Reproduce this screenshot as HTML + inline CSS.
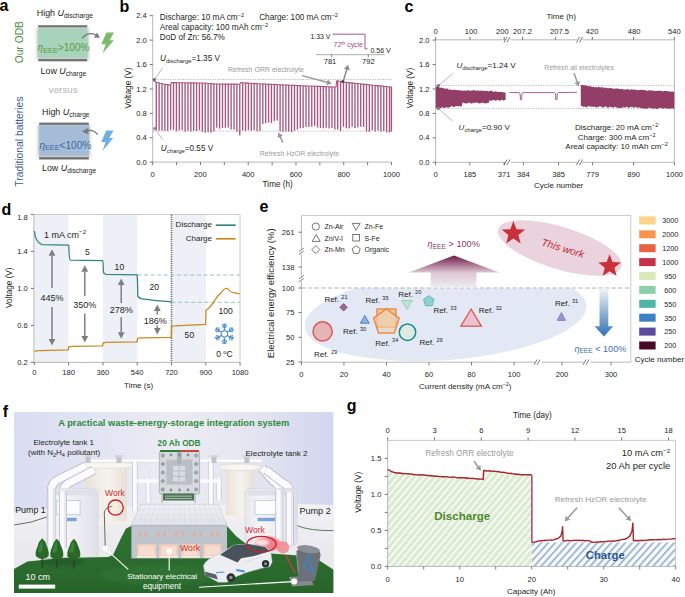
<!DOCTYPE html>
<html><head><meta charset="utf-8"><style>
html,body{margin:0;padding:0;background:#fff;}
body{width:685px;height:597px;overflow:hidden;}
svg{display:block;font-family:"Liberation Sans", sans-serif;}
</style></head><body>
<svg width="685" height="597" viewBox="0 0 685 597">
<defs>
<filter id="sh" x="-20%" y="-20%" width="140%" height="140%"><feGaussianBlur stdDeviation="1.6"/></filter>
<filter id="bl1" x="-20%" y="-20%" width="140%" height="140%"><feGaussianBlur stdDeviation="0.8"/></filter>
<filter id="bl2" x="-20%" y="-20%" width="140%" height="140%"><feGaussianBlur stdDeviation="2"/></filter>
<linearGradient id="gUp" x1="0" y1="0" x2="0" y2="1"><stop offset="0" stop-color="#7d2455"/><stop offset="1" stop-color="#ffffff"/></linearGradient>
<linearGradient id="gDn" x1="0" y1="0" x2="0" y2="1"><stop offset="0" stop-color="#f4f4f6"/><stop offset="1" stop-color="#3a78b8"/></linearGradient>
<pattern id="hG" patternUnits="userSpaceOnUse" width="5.1" height="5.1" patternTransform="rotate(40)"><rect width="5.1" height="5.1" fill="#ffffff"/><rect width="3.7" height="5.1" fill="#dcecd2"/></pattern>
<pattern id="hB" patternUnits="userSpaceOnUse" width="5.2" height="5.2" patternTransform="rotate(42)"><rect width="5.2" height="5.2" fill="#ffffff"/><rect width="2.1" height="5.2" fill="#9fbbd8"/></pattern>
<linearGradient id="bgF" x1="0" y1="0" x2="0" y2="1"><stop offset="0" stop-color="#e9e9f1"/><stop offset="0.5" stop-color="#ececf2"/><stop offset="1" stop-color="#dcdde6"/></linearGradient>
</defs>
<text x="-0.4" y="11.3" font-size="16" text-anchor="start" fill="#000" font-weight="bold" font-style="normal" >a</text><text x="119.6" y="12.3" font-size="16" text-anchor="start" fill="#000" font-weight="bold" font-style="normal" >b</text><text x="404.4" y="12.4" font-size="16" text-anchor="start" fill="#000" font-weight="bold" font-style="normal" >c</text><text x="1.4" y="214.6" font-size="16" text-anchor="start" fill="#000" font-weight="bold" font-style="normal" >d</text><text x="259.4" y="211.6" font-size="16" text-anchor="start" fill="#000" font-weight="bold" font-style="normal" >e</text><text x="2.8" y="416.6" font-size="16" text-anchor="start" fill="#000" font-weight="bold" font-style="normal" >f</text><text x="346.8" y="411.4" font-size="16" text-anchor="start" fill="#000" font-weight="bold" font-style="normal" >g</text><text x="36.8" y="16.0" font-size="8.9" fill="#231f20">High <tspan font-style="italic">U</tspan><tspan font-size="6.7" dy="2.0">discharge</tspan></text><rect x="37" y="27.5" width="51.5" height="32" fill="#8a8a8a" opacity="0.55" filter="url(#sh)"/><rect x="38.2" y="28.4" width="49" height="29.2" fill="#a8d4bb"/><rect x="38.2" y="25.2" width="49" height="2.2" fill="#747474"/><rect x="38.2" y="59" width="49" height="2.3" fill="#747474"/><text x="37.6" y="51" font-size="10.1" fill="#5a9a44"><tspan font-style="italic">η</tspan><tspan font-size="7.3" dy="1.6">EEE</tspan><tspan dy="-1.6">&gt;100%</tspan></text><text x="40.6" y="73.8" font-size="8.9" fill="#231f20">Low <tspan font-style="italic">U</tspan><tspan font-size="6.7" dy="2.0">charge</tspan></text><path d="M82.2,38.4 Q87.5,31.2 95.8,34.8" fill="none" stroke="#7a7a7a" stroke-width="1.4"/><polygon points="99.9,37.7 93.9,37.5 97.1,32.4" fill="#7a7a7a"/><polygon points="106.46,32.60 114.00,32.60 109.58,40.16 113.74,40.16 102.56,53.60 105.68,44.15 101.26,44.15" fill="#7dba6a"/><text x="63.2" y="93.4" font-size="9.8" text-anchor="middle" fill="#b4b4b4" font-weight="normal" font-style="normal" >versus</text><text transform="translate(23.3,42.2) rotate(-90)" font-size="10.3" text-anchor="middle" fill="#4e8a3c">Our ODB</text><text transform="translate(23.3,141.6) rotate(-90)" font-size="10.3" text-anchor="middle" fill="#3c5c9c">Traditional batteries</text><text x="42" y="114.8" font-size="8.9" fill="#231f20">High <tspan font-style="italic">U</tspan><tspan font-size="6.7" dy="2.0">charge</tspan></text><rect x="38" y="124.5" width="52" height="33" fill="#8a8a8a" opacity="0.55" filter="url(#sh)"/><rect x="39.2" y="125.4" width="49.6" height="30" fill="#a4bcd8"/><rect x="39.2" y="122.6" width="49.6" height="2.3" fill="#747474"/><rect x="39.2" y="157.1" width="49.6" height="2.4" fill="#747474"/><text x="39.4" y="148.8" font-size="10.1" fill="#3d69a0"><tspan font-style="italic">η</tspan><tspan font-size="7.3" dy="1.6">EEE</tspan><tspan dy="-1.6">&lt;100%</tspan></text><text x="42" y="171.4" font-size="8.9" fill="#231f20">Low <tspan font-style="italic">U</tspan><tspan font-size="6.7" dy="2.0">discharge</tspan></text><path d="M97.6,134.6 Q93,128.5 86,131.2" fill="none" stroke="#7a7a7a" stroke-width="1.3"/><polygon points="81.8,131.6 88.4,127.8 88.4,134.6" fill="#7a7a7a"/><polygon points="106.25,130.60 113.50,130.60 109.25,137.98 113.25,137.98 102.50,151.10 105.50,141.88 101.25,141.88" fill="#6eb0e4"/><line x1="152.7" y1="15.199999999999989" x2="152.7" y2="162.1" stroke="#b0b0b0" stroke-width="0.9" /><line x1="152.7" y1="162.1" x2="391.5" y2="162.1" stroke="#b0b0b0" stroke-width="0.9" /><line x1="149.7" y1="162.1" x2="152.7" y2="162.1" stroke="#555" stroke-width="0.8" /><text x="146.8" y="164.7" font-size="7.6" text-anchor="end" fill="#231f20" font-weight="normal" font-style="normal" >0.0</text><line x1="149.7" y1="137.7" x2="152.7" y2="137.7" stroke="#555" stroke-width="0.8" /><text x="146.8" y="140.29999999999998" font-size="7.6" text-anchor="end" fill="#231f20" font-weight="normal" font-style="normal" >0.4</text><line x1="149.7" y1="113.29999999999998" x2="152.7" y2="113.29999999999998" stroke="#555" stroke-width="0.8" /><text x="146.8" y="115.89999999999998" font-size="7.6" text-anchor="end" fill="#231f20" font-weight="normal" font-style="normal" >0.8</text><line x1="149.7" y1="88.89999999999999" x2="152.7" y2="88.89999999999999" stroke="#555" stroke-width="0.8" /><text x="146.8" y="91.49999999999999" font-size="7.6" text-anchor="end" fill="#231f20" font-weight="normal" font-style="normal" >1.2</text><line x1="149.7" y1="64.49999999999999" x2="152.7" y2="64.49999999999999" stroke="#555" stroke-width="0.8" /><text x="146.8" y="67.09999999999998" font-size="7.6" text-anchor="end" fill="#231f20" font-weight="normal" font-style="normal" >1.6</text><line x1="149.7" y1="40.099999999999994" x2="152.7" y2="40.099999999999994" stroke="#555" stroke-width="0.8" /><text x="146.8" y="42.699999999999996" font-size="7.6" text-anchor="end" fill="#231f20" font-weight="normal" font-style="normal" >2.0</text><line x1="149.7" y1="15.699999999999989" x2="152.7" y2="15.699999999999989" stroke="#555" stroke-width="0.8" /><text x="146.8" y="18.29999999999999" font-size="7.6" text-anchor="end" fill="#231f20" font-weight="normal" font-style="normal" >2.4</text><line x1="152.7" y1="162.1" x2="152.7" y2="165.1" stroke="#555" stroke-width="0.8" /><line x1="176.57999999999998" y1="162.1" x2="176.57999999999998" y2="165.1" stroke="#555" stroke-width="0.8" /><line x1="200.45999999999998" y1="162.1" x2="200.45999999999998" y2="165.1" stroke="#555" stroke-width="0.8" /><line x1="224.33999999999997" y1="162.1" x2="224.33999999999997" y2="165.1" stroke="#555" stroke-width="0.8" /><line x1="248.22" y1="162.1" x2="248.22" y2="165.1" stroke="#555" stroke-width="0.8" /><line x1="272.1" y1="162.1" x2="272.1" y2="165.1" stroke="#555" stroke-width="0.8" /><line x1="295.98" y1="162.1" x2="295.98" y2="165.1" stroke="#555" stroke-width="0.8" /><line x1="319.86" y1="162.1" x2="319.86" y2="165.1" stroke="#555" stroke-width="0.8" /><line x1="343.74" y1="162.1" x2="343.74" y2="165.1" stroke="#555" stroke-width="0.8" /><line x1="367.62" y1="162.1" x2="367.62" y2="165.1" stroke="#555" stroke-width="0.8" /><line x1="391.5" y1="162.1" x2="391.5" y2="165.1" stroke="#555" stroke-width="0.8" /><text x="152.7" y="177.2" font-size="7.6" text-anchor="middle" fill="#231f20" font-weight="normal" font-style="normal" >0</text><text x="200.45999999999998" y="177.2" font-size="7.6" text-anchor="middle" fill="#231f20" font-weight="normal" font-style="normal" >200</text><text x="248.22" y="177.2" font-size="7.6" text-anchor="middle" fill="#231f20" font-weight="normal" font-style="normal" >400</text><text x="295.98" y="177.2" font-size="7.6" text-anchor="middle" fill="#231f20" font-weight="normal" font-style="normal" >600</text><text x="343.74" y="177.2" font-size="7.6" text-anchor="middle" fill="#231f20" font-weight="normal" font-style="normal" >800</text><text x="391.5" y="177.2" font-size="7.6" text-anchor="middle" fill="#231f20" font-weight="normal" font-style="normal" >1000</text><text x="277.7" y="186.6" font-size="8.2" text-anchor="middle" fill="#231f20" font-weight="normal" font-style="normal" >Time (h)</text><text transform="translate(130.8,87.9) rotate(-90)" font-size="8.3" text-anchor="middle" fill="#231f20">Voltage (V)</text><line x1="152.7" y1="79.5" x2="391.5" y2="79.5" stroke="#9a9a9a" stroke-width="0.7" stroke-dasharray="1.2,1.3"/><line x1="152.7" y1="131.1" x2="391.5" y2="131.1" stroke="#9a9a9a" stroke-width="0.7" stroke-dasharray="1.2,1.3"/><path d="M153.50,80.57 L156.00,82.20 L156.13,82.23 L156.13,129.57 L156.38,129.57 L156.38,82.29 L159.01,82.94 L159.01,130.16 L159.26,130.16 L159.26,83.00 L161.89,83.64 L161.89,129.84 L162.14,129.84 L162.14,83.70 L164.77,84.34 L164.77,130.30 L165.02,130.30 L165.02,84.40 L167.65,84.69 L167.65,130.35 L167.90,130.35 L167.90,84.72 L170.50,85.00 L170.53,84.93 L170.53,129.30 L170.78,129.30 L170.78,84.33 L171.50,82.60 L173.41,82.62 L173.41,129.21 L173.66,129.21 L173.66,82.63 L176.29,82.66 L176.29,130.79 L176.54,130.79 L176.54,82.66 L179.17,82.69 L179.17,129.70 L179.42,129.70 L179.42,82.69 L182.05,82.73 L182.05,129.67 L182.30,129.67 L182.30,82.73 L184.93,82.76 L184.93,131.13 L185.18,131.13 L185.18,82.76 L187.81,82.79 L187.81,130.14 L188.06,130.14 L188.06,82.80 L190.69,82.83 L190.69,130.85 L190.94,130.85 L190.94,82.83 L193.57,82.86 L193.57,130.18 L193.82,130.18 L193.82,82.87 L196.45,82.90 L196.45,130.50 L196.70,130.50 L196.70,82.90 L199.33,82.93 L199.33,129.58 L199.58,129.58 L199.58,82.94 L202.21,82.97 L202.21,131.08 L202.46,131.08 L202.46,82.97 L205.00,83.00 L205.09,83.01 L205.09,132.25 L205.34,132.25 L205.34,83.03 L207.97,83.30 L207.97,131.71 L208.22,131.71 L208.22,83.32 L210.85,83.58 L210.85,132.23 L211.10,132.23 L211.10,83.61 L213.73,83.87 L213.73,130.86 L213.98,130.86 L213.98,83.90 L215.00,84.00 L216.61,84.01 L216.61,127.19 L216.86,127.19 L216.86,84.01 L219.49,84.04 L219.49,128.10 L219.74,128.10 L219.74,84.04 L222.37,84.06 L222.37,127.46 L222.62,127.46 L222.62,84.06 L225.25,84.08 L225.25,127.20 L225.50,127.20 L225.50,84.08 L228.13,84.11 L228.13,126.97 L228.38,126.97 L228.38,84.11 L231.01,84.13 L231.01,128.98 L231.26,128.98 L231.26,84.13 L233.89,84.15 L233.89,128.90 L234.14,128.90 L234.14,84.15 L236.77,84.17 L236.77,131.12 L237.02,131.12 L237.02,84.18 L239.65,84.20 L239.65,134.85 L239.90,134.85 L239.90,84.20 L240.00,84.20 L240.60,82.60 L242.53,82.72 L242.53,129.97 L242.78,129.97 L242.78,82.73 L245.41,82.90 L245.41,130.41 L245.66,130.41 L245.66,82.91 L248.29,83.08 L248.29,129.46 L248.54,129.46 L248.54,83.09 L251.17,83.25 L251.17,130.28 L251.42,130.28 L251.42,83.27 L254.05,83.43 L254.05,129.65 L254.30,129.65 L254.30,83.45 L256.93,83.61 L256.93,130.63 L257.18,130.63 L257.18,83.63 L259.81,83.79 L259.81,130.57 L260.06,130.57 L260.06,83.80 L262.69,83.92 L262.69,123.40 L262.94,123.40 L262.94,83.93 L265.57,84.05 L265.57,122.64 L265.82,122.64 L265.82,84.06 L268.45,84.18 L268.45,121.96 L268.70,121.96 L268.70,84.19 L271.33,84.31 L271.33,122.48 L271.58,122.48 L271.58,84.32 L274.21,84.44 L274.21,120.49 L274.46,120.49 L274.46,84.45 L277.09,84.57 L277.09,119.87 L277.34,119.87 L277.34,84.58 L279.97,84.70 L279.97,130.69 L280.22,130.69 L280.22,84.71 L282.85,84.83 L282.85,131.12 L283.10,131.12 L283.10,84.84 L285.73,84.96 L285.73,130.93 L285.98,130.93 L285.98,84.97 L288.61,85.09 L288.61,130.91 L288.86,130.91 L288.86,85.10 L291.49,85.22 L291.49,131.39 L291.74,131.39 L291.74,85.23 L294.37,85.35 L294.37,130.22 L294.62,130.22 L294.62,85.36 L297.25,85.48 L297.25,129.05 L297.50,129.05 L297.50,85.49 L300.00,85.60 L300.13,85.61 L300.13,127.79 L300.38,127.79 L300.38,85.61 L303.01,85.72 L303.01,127.43 L303.26,127.43 L303.26,85.73 L305.89,85.83 L305.89,126.45 L306.14,126.45 L306.14,85.84 L308.77,85.94 L308.77,126.54 L309.02,126.54 L309.02,85.95 L311.65,86.05 L311.65,126.19 L311.90,126.19 L311.90,86.06 L314.53,86.17 L314.53,125.48 L314.78,125.48 L314.78,86.17 L317.41,86.28 L317.41,127.06 L317.66,127.06 L317.66,86.29 L320.29,86.39 L320.29,127.51 L320.54,127.51 L320.54,86.40 L323.17,86.50 L323.17,127.66 L323.42,127.66 L323.42,86.51 L326.05,86.61 L326.05,127.32 L326.30,127.32 L326.30,86.62 L328.93,86.73 L328.93,127.98 L329.18,127.98 L329.18,86.73 L331.81,86.84 L331.81,127.41 L332.06,127.41 L332.06,86.85 L334.69,86.95 L334.69,128.97 L334.94,128.97 L334.94,86.96 L336.00,87.00 L336.70,80.80 L337.57,80.95 L337.57,128.87 L337.82,128.87 L337.82,80.99 L340.45,81.43 L340.45,130.34 L340.70,130.34 L340.70,81.47 L343.33,81.92 L343.33,126.22 L343.58,126.22 L343.58,81.96 L345.00,82.20 L346.21,82.33 L346.21,127.69 L346.46,127.69 L346.46,82.35 L349.09,82.62 L349.09,127.92 L349.34,127.92 L349.34,82.65 L351.97,82.92 L351.97,126.18 L352.22,126.18 L352.22,82.95 L354.85,83.22 L354.85,127.51 L355.10,127.51 L355.10,83.25 L357.73,83.52 L357.73,126.74 L357.98,126.74 L357.98,83.55 L360.61,83.82 L360.61,126.22 L360.86,126.22 L360.86,83.85 L363.49,84.12 L363.49,126.46 L363.74,126.46 L363.74,84.15 L366.37,84.42 L366.37,130.97 L366.62,130.97 L366.62,84.45 L369.25,84.72 L369.25,131.24 L369.50,131.24 L369.50,84.75 L372.13,85.02 L372.13,129.73 L372.38,129.73 L372.38,85.04 L375.01,85.32 L375.01,130.88 L375.26,130.88 L375.26,85.34 L377.89,85.62 L377.89,129.87 L378.14,129.87 L378.14,85.64 L380.77,85.92 L380.77,131.22 L381.02,131.22 L381.02,85.94 L383.65,86.22 L383.65,130.55 L383.90,130.55 L383.90,86.24 L386.53,86.51 L386.53,131.67 L386.78,131.67 L386.78,86.54 L389.41,86.81 L389.41,131.93 L389.66,131.93 L389.66,86.84 L391.20,87.00 L391.30,87.00 L391.30,131.06 L391.55,131.06 L391.55,87.00" fill="none" stroke="#a8567f" stroke-width="1.1"/><line x1="154.4" y1="79.6" x2="162.8" y2="67.8" stroke="#888" stroke-width="0.6" /><line x1="154.9" y1="128.6" x2="162.6" y2="139.6" stroke="#888" stroke-width="0.6" /><circle cx="154.3" cy="79.6" r="1.6" fill="#6a6a6a"/><circle cx="154.8" cy="128.6" r="1.6" fill="#8a8a8a"/><text x="159.8" y="19.9" font-size="8.2" text-anchor="start" fill="#231f20" font-weight="normal" font-style="normal" >Discharge: 10 mA cm<tspan font-size="5.6" dy="-3">−2</tspan></text><text x="259.2" y="19.9" font-size="8.2" text-anchor="start" fill="#231f20" font-weight="normal" font-style="normal" >Charge: 100 mA cm<tspan font-size="5.6" dy="-3">−2</tspan></text><text x="159.8" y="29.8" font-size="8.2" text-anchor="start" fill="#231f20" font-weight="normal" font-style="normal" >Areal capacity: 100 mAh cm<tspan font-size="5.6" dy="-3">−2</tspan></text><text x="159.8" y="39.6" font-size="8.2" text-anchor="start" fill="#231f20" font-weight="normal" font-style="normal" >DoD of Zn: 56.7%</text><text x="160" y="61.4" font-size="8.2" fill="#231f20"><tspan font-style="italic">U</tspan><tspan font-size="5.90" dy="1.80">discharge</tspan><tspan dy="-1.80">=1.35 V</tspan></text><text x="160.8" y="151" font-size="8.2" fill="#231f20"><tspan font-style="italic">U</tspan><tspan font-size="5.90" dy="1.80">charge</tspan><tspan dy="-1.80">=0.55 V</tspan></text><text x="228" y="72.4" font-size="7.0" text-anchor="start" fill="#9a9a9a" font-weight="normal" font-style="normal" >Refresh ORR electrolyte</text><text x="259.8" y="155.6" font-size="7.0" text-anchor="start" fill="#9a9a9a" font-weight="normal" font-style="normal" >Refresh HzOR electrolyte</text><line x1="302" y1="75.6" x2="326.97" y2="82.30" stroke="#999" stroke-width="1.5"/><polygon points="331.80,83.60 326.19,85.20 327.75,79.41" fill="#999"/><line x1="343" y1="82" x2="346.75" y2="69.59" stroke="#8a8a8a" stroke-width="1.5"/><polygon points="348.20,64.80 349.62,70.45 343.88,68.72" fill="#8a8a8a"/><circle cx="342.8" cy="81.6" r="1.5" fill="#444"/><line x1="282.8" y1="142.6" x2="280.32" y2="136.97" stroke="#999" stroke-width="1.5"/><polygon points="278.30,132.40 283.06,135.76 277.57,138.19" fill="#999"/><text x="330.4" y="38.6" font-size="6.9" text-anchor="end" fill="#231f20" font-weight="normal" font-style="normal" >1.33 V</text><polyline points="332.6,34.2 365,34.2 365,48.8 367.6,48.8" fill="none" stroke="#a2467a" stroke-width="0.9"/><text x="333.6" y="47.4" font-size="6.9" text-anchor="start" fill="#a2467a" font-weight="normal" font-style="normal" >72<tspan font-size="4.8" dy="-2.8">th</tspan><tspan dy="2.8"> cycle</tspan></text><text x="370.4" y="52.8" font-size="7.05" text-anchor="start" fill="#231f20" font-weight="normal" font-style="normal" >0.56 V</text><line x1="316" y1="54.7" x2="384.8" y2="54.7" stroke="#999" stroke-width="0.8" /><line x1="331.5" y1="54.7" x2="331.5" y2="57.2" stroke="#666" stroke-width="0.8" /><line x1="368.3" y1="54.7" x2="368.3" y2="57.2" stroke="#666" stroke-width="0.8" /><text x="330" y="64.2" font-size="7.6" text-anchor="middle" fill="#231f20" font-weight="normal" font-style="normal" >781</text><text x="368.3" y="64.2" font-size="7.6" text-anchor="middle" fill="#231f20" font-weight="normal" font-style="normal" >792</text><line x1="435.6" y1="39.8" x2="505.2" y2="39.8" stroke="#b0b0b0" stroke-width="0.9" /><line x1="435.6" y1="162.3" x2="505.2" y2="162.3" stroke="#b0b0b0" stroke-width="0.9" /><line x1="510.8" y1="39.8" x2="577.2" y2="39.8" stroke="#b0b0b0" stroke-width="0.9" /><line x1="510.8" y1="162.3" x2="577.2" y2="162.3" stroke="#b0b0b0" stroke-width="0.9" /><line x1="582.2" y1="39.8" x2="674.4" y2="39.8" stroke="#b0b0b0" stroke-width="0.9" /><line x1="582.2" y1="162.3" x2="674.4" y2="162.3" stroke="#b0b0b0" stroke-width="0.9" /><line x1="435.6" y1="39.8" x2="435.6" y2="162.3" stroke="#b0b0b0" stroke-width="0.9" /><line x1="674.4" y1="39.8" x2="674.4" y2="162.3" stroke="#b0b0b0" stroke-width="0.9" /><line x1="503.9" y1="42.599999999999994" x2="507.1" y2="37.0" stroke="#555" stroke-width="0.8" /><line x1="506.9" y1="42.599999999999994" x2="510.1" y2="37.0" stroke="#555" stroke-width="0.8" /><line x1="503.9" y1="165.10000000000002" x2="507.1" y2="159.5" stroke="#555" stroke-width="0.8" /><line x1="506.9" y1="165.10000000000002" x2="510.1" y2="159.5" stroke="#555" stroke-width="0.8" /><line x1="576.4" y1="42.599999999999994" x2="579.6" y2="37.0" stroke="#555" stroke-width="0.8" /><line x1="579.4" y1="42.599999999999994" x2="582.6" y2="37.0" stroke="#555" stroke-width="0.8" /><line x1="576.4" y1="165.10000000000002" x2="579.6" y2="159.5" stroke="#555" stroke-width="0.8" /><line x1="579.4" y1="165.10000000000002" x2="582.6" y2="159.5" stroke="#555" stroke-width="0.8" /><line x1="432.6" y1="162.3" x2="435.6" y2="162.3" stroke="#555" stroke-width="0.8" /><text x="429.6" y="164.9" font-size="7.6" text-anchor="end" fill="#231f20" font-weight="normal" font-style="normal" >0.0</text><line x1="432.6" y1="137.86" x2="435.6" y2="137.86" stroke="#555" stroke-width="0.8" /><text x="429.6" y="140.46" font-size="7.6" text-anchor="end" fill="#231f20" font-weight="normal" font-style="normal" >0.4</text><line x1="432.6" y1="113.42000000000002" x2="435.6" y2="113.42000000000002" stroke="#555" stroke-width="0.8" /><text x="429.6" y="116.02000000000001" font-size="7.6" text-anchor="end" fill="#231f20" font-weight="normal" font-style="normal" >0.8</text><line x1="432.6" y1="88.98000000000002" x2="435.6" y2="88.98000000000002" stroke="#555" stroke-width="0.8" /><text x="429.6" y="91.58000000000001" font-size="7.6" text-anchor="end" fill="#231f20" font-weight="normal" font-style="normal" >1.2</text><line x1="432.6" y1="64.54" x2="435.6" y2="64.54" stroke="#555" stroke-width="0.8" /><text x="429.6" y="67.14" font-size="7.6" text-anchor="end" fill="#231f20" font-weight="normal" font-style="normal" >1.6</text><line x1="432.6" y1="40.10000000000001" x2="435.6" y2="40.10000000000001" stroke="#555" stroke-width="0.8" /><text x="429.6" y="42.70000000000001" font-size="7.6" text-anchor="end" fill="#231f20" font-weight="normal" font-style="normal" >2.0</text><line x1="435.6" y1="162.3" x2="435.6" y2="165.3" stroke="#555" stroke-width="0.8" /><text x="435.6" y="177.4" font-size="7.6" text-anchor="middle" fill="#231f20" font-weight="normal" font-style="normal" >0</text><line x1="469.8" y1="162.3" x2="469.8" y2="165.3" stroke="#555" stroke-width="0.8" /><text x="469.8" y="177.4" font-size="7.6" text-anchor="middle" fill="#231f20" font-weight="normal" font-style="normal" >185</text><line x1="504.2" y1="162.3" x2="504.2" y2="165.3" stroke="#555" stroke-width="0.8" /><text x="504.2" y="177.4" font-size="7.6" text-anchor="middle" fill="#231f20" font-weight="normal" font-style="normal" >371</text><line x1="523.4" y1="162.3" x2="523.4" y2="165.3" stroke="#555" stroke-width="0.8" /><text x="523.4" y="177.4" font-size="7.6" text-anchor="middle" fill="#231f20" font-weight="normal" font-style="normal" >384</text><line x1="558.6" y1="162.3" x2="558.6" y2="165.3" stroke="#555" stroke-width="0.8" /><text x="558.6" y="177.4" font-size="7.6" text-anchor="middle" fill="#231f20" font-weight="normal" font-style="normal" >385</text><line x1="592.6" y1="162.3" x2="592.6" y2="165.3" stroke="#555" stroke-width="0.8" /><text x="592.6" y="177.4" font-size="7.6" text-anchor="middle" fill="#231f20" font-weight="normal" font-style="normal" >779</text><line x1="633.6" y1="162.3" x2="633.6" y2="165.3" stroke="#555" stroke-width="0.8" /><text x="633.6" y="177.4" font-size="7.6" text-anchor="middle" fill="#231f20" font-weight="normal" font-style="normal" >890</text><line x1="674.4" y1="162.3" x2="674.4" y2="165.3" stroke="#555" stroke-width="0.8" /><text x="674.4" y="177.4" font-size="7.6" text-anchor="middle" fill="#231f20" font-weight="normal" font-style="normal" >1000</text><line x1="435.6" y1="36.8" x2="435.6" y2="39.8" stroke="#555" stroke-width="0.8" /><text x="435.6" y="33.6" font-size="7.6" text-anchor="middle" fill="#231f20" font-weight="normal" font-style="normal" >0</text><line x1="470" y1="36.8" x2="470" y2="39.8" stroke="#555" stroke-width="0.8" /><text x="471.2" y="33.6" font-size="7.6" text-anchor="middle" fill="#231f20" font-weight="normal" font-style="normal" >100</text><line x1="504.2" y1="36.8" x2="504.2" y2="39.8" stroke="#555" stroke-width="0.8" /><text x="502.4" y="33.6" font-size="7.6" text-anchor="middle" fill="#231f20" font-weight="normal" font-style="normal" >200</text><line x1="522.6" y1="36.8" x2="522.6" y2="39.8" stroke="#555" stroke-width="0.8" /><text x="522.6" y="33.6" font-size="7.6" text-anchor="middle" fill="#231f20" font-weight="normal" font-style="normal" >207.2</text><line x1="555.6" y1="36.8" x2="555.6" y2="39.8" stroke="#555" stroke-width="0.8" /><text x="559.6" y="33.6" font-size="7.6" text-anchor="middle" fill="#231f20" font-weight="normal" font-style="normal" >207.5</text><line x1="592.3" y1="36.8" x2="592.3" y2="39.8" stroke="#555" stroke-width="0.8" /><text x="592.1" y="33.6" font-size="7.6" text-anchor="middle" fill="#231f20" font-weight="normal" font-style="normal" >420</text><line x1="633.6" y1="36.8" x2="633.6" y2="39.8" stroke="#555" stroke-width="0.8" /><text x="634.2" y="33.6" font-size="7.6" text-anchor="middle" fill="#231f20" font-weight="normal" font-style="normal" >480</text><line x1="674.4" y1="36.8" x2="674.4" y2="39.8" stroke="#555" stroke-width="0.8" /><text x="674.4" y="33.6" font-size="7.6" text-anchor="middle" fill="#231f20" font-weight="normal" font-style="normal" >540</text><text x="561.2" y="19.4" font-size="8" text-anchor="middle" fill="#231f20" font-weight="normal" font-style="normal" >Time (h)</text><text x="558.6" y="187.6" font-size="8" text-anchor="middle" fill="#231f20" font-weight="normal" font-style="normal" >Cycle number</text><text transform="translate(412.7,88) rotate(-90)" font-size="8.2" text-anchor="middle" fill="#231f20">Voltage (V)</text><line x1="435.6" y1="85.5" x2="674.4" y2="85.5" stroke="#9a9a9a" stroke-width="0.7" stroke-dasharray="1.2,1.3"/><line x1="435.6" y1="108.6" x2="674.4" y2="108.6" stroke="#9a9a9a" stroke-width="0.7" stroke-dasharray="1.2,1.3"/><polygon points="435.80,86.70 437.20,86.54 438.60,86.84 440.00,87.90 441.25,87.54 442.50,87.92 443.75,88.35 445.00,88.76 446.25,88.52 447.50,88.62 448.75,89.66 450.00,89.31 451.22,90.06 452.44,90.10 453.67,89.68 454.89,89.86 456.11,90.02 457.33,90.24 458.56,90.30 459.78,90.36 461.00,90.52 462.27,90.86 463.55,90.44 464.82,90.39 466.09,90.69 467.36,90.23 468.64,90.31 469.91,91.01 471.18,90.57 472.45,90.61 473.73,90.09 475.00,90.52 476.30,90.72 477.60,90.20 478.90,90.84 480.20,90.89 481.50,90.36 482.80,90.97 484.10,90.85 485.40,91.10 486.70,90.81 488.00,91.21 489.25,91.34 490.50,90.72 491.75,90.86 493.00,91.58 494.25,91.96 495.50,91.35 496.75,91.66 498.00,91.89 499.27,91.75 500.53,91.93 501.80,92.01 503.07,92.20 504.33,92.56 505.60,92.60 505.60,99.88 504.36,100.03 503.12,100.70 501.88,99.54 500.65,100.43 499.41,100.73 498.17,100.08 496.93,99.97 495.69,100.93 494.45,100.06 493.22,100.01 491.98,100.43 490.74,100.89 489.50,99.96 489.00,102.72 487.80,102.73 486.59,103.53 485.39,102.90 484.18,103.57 482.98,102.47 481.77,102.74 480.57,103.24 479.36,103.62 478.16,102.92 476.95,102.56 475.75,102.39 474.55,103.05 473.34,102.51 472.14,103.49 470.93,103.54 469.73,102.49 468.52,102.65 467.32,103.49 466.11,103.23 464.91,103.49 463.70,102.75 462.50,102.41 462.00,105.87 460.80,106.73 459.60,105.95 458.40,106.13 457.20,106.31 456.00,106.37 454.80,106.42 453.60,107.29 452.40,106.13 451.20,105.95 450.00,107.51 448.75,107.51 447.50,107.78 446.25,106.99 445.00,107.92 443.75,107.98 442.50,106.96 441.25,107.89 440.00,108.14 438.60,108.06 437.20,108.03 435.80,108.20" fill="#933e67"/><polygon points="580.80,84.83 582.11,85.07 583.43,85.18 584.74,85.25 586.06,85.87 587.37,85.83 588.69,86.45 590.00,86.04 591.25,86.84 592.50,86.78 593.75,87.08 595.00,87.17 596.25,87.28 597.50,87.14 598.75,86.80 600.00,87.50 601.25,87.15 602.50,87.36 603.75,87.77 605.00,87.77 606.25,87.79 607.50,88.33 608.75,88.18 610.00,88.07 611.25,88.09 612.50,88.66 613.75,88.44 615.00,88.78 616.25,88.52 617.50,88.48 618.75,88.84 620.00,89.15 621.25,88.72 622.50,89.31 623.75,89.50 625.00,89.49 626.25,89.60 627.50,89.03 628.75,89.62 630.00,89.89 631.25,89.30 632.50,89.54 633.75,89.60 635.00,89.87 636.25,89.85 637.50,89.95 638.75,90.26 640.00,89.70 641.25,89.81 642.50,89.93 643.75,89.99 645.00,90.00 646.25,90.79 647.50,90.76 648.75,90.21 650.00,90.60 651.21,90.50 652.42,90.55 653.63,90.63 654.84,90.92 656.05,90.92 657.26,90.79 658.47,90.70 659.68,90.86 660.89,90.75 662.10,91.14 663.31,91.32 664.52,91.10 665.73,90.91 666.94,91.04 668.15,91.25 669.36,91.48 670.57,91.68 671.78,91.40 672.99,91.79 674.20,91.60 674.20,108.82 672.99,108.46 671.78,108.33 670.57,108.53 669.36,108.89 668.15,108.36 666.94,108.83 665.73,108.39 664.52,107.98 663.31,108.48 662.10,108.75 660.89,107.61 659.68,108.22 658.47,108.21 657.26,109.00 656.05,109.09 654.84,108.05 653.63,108.98 652.42,108.76 651.21,107.79 650.00,108.14 648.75,107.48 647.50,108.69 646.25,108.38 645.00,108.75 643.75,108.54 642.50,108.28 641.25,108.36 640.00,108.01 638.75,107.15 637.50,107.98 636.25,106.90 635.00,107.11 633.75,108.21 632.50,106.85 631.25,106.90 630.00,106.88 628.75,108.26 627.50,106.97 626.25,106.67 625.00,108.11 623.75,106.79 622.50,108.07 621.25,107.74 620.00,108.01 618.75,108.19 617.50,107.49 616.25,107.86 615.00,106.47 613.75,107.76 612.50,107.27 611.25,107.61 610.00,106.49 608.75,107.62 607.50,107.93 606.25,106.34 605.00,106.78 603.75,107.19 602.50,107.64 601.25,106.56 600.00,106.42 598.75,106.52 597.50,107.16 596.25,107.38 595.00,106.71 593.75,106.64 592.50,106.66 591.25,106.56 590.00,106.65 588.69,105.99 587.37,106.69 586.06,107.48 584.74,106.41 583.43,106.96 582.11,105.85 580.80,106.40" fill="#933e67"/><path d="M509.2,92.6 L519.2,92.6 Q520,92.6 520.2,95 L520.4,99.6 L521.6,99.6 L521.8,95 Q522,92.6 523,92.6 L554.6,92.6 Q555.4,92.6 555.6,95 L555.8,99.6 L557,99.6 L557.2,95 Q557.4,92.6 558.4,92.6 L577,92.3" fill="none" stroke="#a0507a" stroke-width="0.9"/><line x1="438.4" y1="85.6" x2="453.4" y2="73" stroke="#888" stroke-width="0.6" /><line x1="438.4" y1="108.6" x2="452.6" y2="121" stroke="#888" stroke-width="0.6" /><circle cx="438.3" cy="85.7" r="1.6" fill="#777"/><circle cx="438.3" cy="108.6" r="1.6" fill="#888"/><text x="456.4" y="68.4" font-size="8.1" fill="#231f20"><tspan font-style="italic">U</tspan><tspan font-size="5.83" dy="1.78">discharge</tspan><tspan dy="-1.78">=1.24 V</tspan></text><text x="458.6" y="130.2" font-size="8.0" fill="#231f20"><tspan font-style="italic">U</tspan><tspan font-size="5.76" dy="1.76">charge</tspan><tspan dy="-1.76">=0.90 V</tspan></text><text x="544.2" y="69.6" font-size="6.9" text-anchor="start" fill="#9a9a9a" font-weight="normal" font-style="normal" >Refresh all electrolytes</text><line x1="574" y1="73" x2="577.14" y2="81.89" stroke="#999" stroke-width="1.5"/><polygon points="578.80,86.60 574.31,82.88 579.96,80.89" fill="#999"/><text x="616.6" y="130.2" font-size="8.1" text-anchor="middle" fill="#231f20" font-weight="normal" font-style="normal" >Discharge: 20 mA cm<tspan font-size="5.6" dy="-3">−2</tspan></text><text x="616.6" y="139.8" font-size="8.1" text-anchor="middle" fill="#231f20" font-weight="normal" font-style="normal" >Charge: 300 mA cm<tspan font-size="5.6" dy="-3">−2</tspan></text><text x="616.6" y="149.4" font-size="8.1" text-anchor="middle" fill="#231f20" font-weight="normal" font-style="normal" >Areal capacity: 10 mAh cm<tspan font-size="5.6" dy="-3">−2</tspan></text><rect x="34.30" y="214.5" width="34.30" height="147.89999999999998" fill="#edf0f6"/><rect x="102.90" y="214.5" width="34.30" height="147.89999999999998" fill="#edf0f6"/><rect x="171.50" y="214.5" width="34.30" height="147.89999999999998" fill="#edf0f6"/><line x1="33.9" y1="214.5" x2="240.0" y2="214.5" stroke="#c8c8c8" stroke-width="0.9" /><line x1="240.0" y1="214.5" x2="240.0" y2="362.4" stroke="#c8c8c8" stroke-width="0.9" /><line x1="33.9" y1="214.5" x2="33.9" y2="362.4" stroke="#b0b0b0" stroke-width="0.9" /><line x1="33.9" y1="362.4" x2="240.0" y2="362.4" stroke="#b0b0b0" stroke-width="0.9" /><line x1="30.9" y1="362.4" x2="33.9" y2="362.4" stroke="#555" stroke-width="0.8" /><text x="27.8" y="365.0" font-size="7.6" text-anchor="end" fill="#231f20" font-weight="normal" font-style="normal" >0.2</text><line x1="30.9" y1="325.4" x2="33.9" y2="325.4" stroke="#555" stroke-width="0.8" /><text x="27.8" y="328.0" font-size="7.6" text-anchor="end" fill="#231f20" font-weight="normal" font-style="normal" >0.6</text><line x1="30.9" y1="288.4" x2="33.9" y2="288.4" stroke="#555" stroke-width="0.8" /><text x="27.8" y="291.0" font-size="7.6" text-anchor="end" fill="#231f20" font-weight="normal" font-style="normal" >1.0</text><line x1="30.9" y1="251.39999999999998" x2="33.9" y2="251.39999999999998" stroke="#555" stroke-width="0.8" /><text x="27.8" y="253.99999999999997" font-size="7.6" text-anchor="end" fill="#231f20" font-weight="normal" font-style="normal" >1.4</text><line x1="30.9" y1="214.39999999999998" x2="33.9" y2="214.39999999999998" stroke="#555" stroke-width="0.8" /><text x="27.8" y="219.59999999999997" font-size="7.6" text-anchor="end" fill="#231f20" font-weight="normal" font-style="normal" >1.8</text><line x1="34.3" y1="362.4" x2="34.3" y2="365.4" stroke="#555" stroke-width="0.8" /><text x="34.3" y="375.2" font-size="7.6" text-anchor="middle" fill="#231f20" font-weight="normal" font-style="normal" >0</text><line x1="68.60079999999999" y1="362.4" x2="68.60079999999999" y2="365.4" stroke="#555" stroke-width="0.8" /><text x="68.60079999999999" y="375.2" font-size="7.6" text-anchor="middle" fill="#231f20" font-weight="normal" font-style="normal" >180</text><line x1="102.9016" y1="362.4" x2="102.9016" y2="365.4" stroke="#555" stroke-width="0.8" /><text x="102.9016" y="375.2" font-size="7.6" text-anchor="middle" fill="#231f20" font-weight="normal" font-style="normal" >360</text><line x1="137.2024" y1="362.4" x2="137.2024" y2="365.4" stroke="#555" stroke-width="0.8" /><text x="137.2024" y="375.2" font-size="7.6" text-anchor="middle" fill="#231f20" font-weight="normal" font-style="normal" >540</text><line x1="171.5032" y1="362.4" x2="171.5032" y2="365.4" stroke="#555" stroke-width="0.8" /><text x="171.5032" y="375.2" font-size="7.6" text-anchor="middle" fill="#231f20" font-weight="normal" font-style="normal" >720</text><line x1="205.80400000000003" y1="362.4" x2="205.80400000000003" y2="365.4" stroke="#555" stroke-width="0.8" /><text x="205.80400000000003" y="375.2" font-size="7.6" text-anchor="middle" fill="#231f20" font-weight="normal" font-style="normal" >900</text><line x1="240.1048" y1="362.4" x2="240.1048" y2="365.4" stroke="#555" stroke-width="0.8" /><text x="240.1048" y="375.2" font-size="7.6" text-anchor="middle" fill="#231f20" font-weight="normal" font-style="normal" >1080</text><text x="138.6" y="387.8" font-size="8" text-anchor="middle" fill="#231f20" font-weight="normal" font-style="normal" >Time (s)</text><text transform="translate(11.7,287.7) rotate(-90)" font-size="8.2" text-anchor="middle" fill="#231f20">Voltage (V)</text><line x1="171.5032" y1="214.5" x2="171.5032" y2="362.4" stroke="#6a6a6a" stroke-width="1.6" stroke-dasharray="1.2,1.0"/><line x1="137.4" y1="275.0" x2="240.0" y2="275.0" stroke="#93c6c0" stroke-width="1.0" stroke-dasharray="4,2.6"/><line x1="171.5" y1="302.3" x2="240.0" y2="302.3" stroke="#93c6c0" stroke-width="1.0" stroke-dasharray="4,2.6"/><path d="M34.4,231 C35,238 37,243 42,244.6 L68.2,245.2 L68.8,245.6 Q69,259.5 70.5,260.2 L102.6,260.6 Q103.1,261 103.4,272 Q104,274.2 106,274.4 L137,274.8 Q137.5,276 137.8,296 Q138.6,298.4 142,298.8 Q155,300.6 171.5,301.8" fill="none" stroke="#35857c" stroke-width="1.3"/><path d="M34.4,351.4 Q36,350.8 40,350.6 L68.3,349.8 L68.6,346.8 Q69.5,346.4 72,346.4 L102.6,345.8 L102.9,343.2 Q103.8,342.4 106,342.4 L137.2,341.8 L137.5,338.6 Q138.2,337.8 141,337.8 L171.2,337.4 L171.6,326.2 Q172.2,325.8 175,325.8 L205.6,324.4 L206,310.4 Q207,309 208.5,308.4 Q212,305 216.4,297.8 Q218.5,294.5 220.4,293.6 Q224,288.6 226.3,288.4 Q228,288.4 229,290 Q230.5,292.4 233,292.6 Q237,293 239.8,293.8" fill="none" stroke="#c98b1f" stroke-width="1.3"/><line x1="52.0" y1="288.0" x2="52.00" y2="255.70" stroke="#7f7f7f" stroke-width="1.5"/><polygon points="52.00,249.20 55.40,255.70 48.60,255.70" fill="#7f7f7f"/><line x1="52.0" y1="307.0" x2="52.00" y2="339.10" stroke="#7f7f7f" stroke-width="1.5"/><polygon points="52.00,345.60 48.60,339.10 55.40,339.10" fill="#7f7f7f"/><text x="52.0" y="301.4" font-size="9.0" text-anchor="middle" fill="#231f20" font-weight="normal" font-style="normal" >445%</text><line x1="84.8" y1="296.0" x2="84.80" y2="271.70" stroke="#7f7f7f" stroke-width="1.5"/><polygon points="84.80,265.20 88.20,271.70 81.40,271.70" fill="#7f7f7f"/><line x1="84.8" y1="313.6" x2="84.80" y2="336.10" stroke="#7f7f7f" stroke-width="1.5"/><polygon points="84.80,342.60 81.40,336.10 88.20,336.10" fill="#7f7f7f"/><text x="84.8" y="307.8" font-size="9.0" text-anchor="middle" fill="#231f20" font-weight="normal" font-style="normal" >350%</text><line x1="121.2" y1="303.0" x2="121.20" y2="284.90" stroke="#7f7f7f" stroke-width="1.5"/><polygon points="121.20,278.40 124.60,284.90 117.80,284.90" fill="#7f7f7f"/><line x1="121.2" y1="317.2" x2="121.20" y2="332.30" stroke="#7f7f7f" stroke-width="1.5"/><polygon points="121.20,338.80 117.80,332.30 124.60,332.30" fill="#7f7f7f"/><text x="121.2" y="313.4" font-size="9.0" text-anchor="middle" fill="#231f20" font-weight="normal" font-style="normal" >278%</text><line x1="157.3" y1="314.6" x2="157.30" y2="311.10" stroke="#7f7f7f" stroke-width="1.5"/><polygon points="157.30,304.60 160.70,311.10 153.90,311.10" fill="#7f7f7f"/><line x1="157.3" y1="325.4" x2="157.30" y2="327.90" stroke="#7f7f7f" stroke-width="1.5"/><polygon points="157.30,334.40 153.90,327.90 160.70,327.90" fill="#7f7f7f"/><text x="155.3" y="324.2" font-size="9.0" text-anchor="middle" fill="#231f20" font-weight="normal" font-style="normal" >186%</text><text x="44" y="237.6" font-size="9.0" text-anchor="start" fill="#231f20" font-weight="normal" font-style="normal" >1 mA cm<tspan font-size="6.2" dy="-3.4">−2</tspan></text><text x="87.5" y="255.4" font-size="8.6" text-anchor="middle" fill="#231f20" font-weight="normal" font-style="normal" >5</text><text x="119.4" y="269.6" font-size="8.6" text-anchor="middle" fill="#231f20" font-weight="normal" font-style="normal" >10</text><text x="154.2" y="289.8" font-size="8.6" text-anchor="middle" fill="#231f20" font-weight="normal" font-style="normal" >20</text><text x="189.4" y="338.2" font-size="8.6" text-anchor="middle" fill="#231f20" font-weight="normal" font-style="normal" >50</text><text x="225.6" y="313.6" font-size="8.6" text-anchor="middle" fill="#231f20" font-weight="normal" font-style="normal" >100</text><text x="216.2" y="357.2" font-size="8.6" text-anchor="start" fill="#231f20" font-weight="normal" font-style="normal" >0 <tspan font-size="5.8" dy="-3.2">o</tspan><tspan dy="3.2">C</tspan></text><text x="212" y="226.6" font-size="8.1" text-anchor="end" fill="#231f20" font-weight="normal" font-style="normal" >Discharge</text><text x="212" y="240.8" font-size="8.0" text-anchor="end" fill="#231f20" font-weight="normal" font-style="normal" >Charge</text><line x1="215.8" y1="225.2" x2="235.6" y2="225.2" stroke="#35857c" stroke-width="1.7" /><line x1="215.8" y1="238.8" x2="235.6" y2="238.8" stroke="#c98b1f" stroke-width="1.7" /><path d="M224.40,333.80 L224.40,323.60 M224.40,328.19 L221.71,325.50 M224.40,328.19 L227.09,325.50 M224.40,325.64 L222.56,323.80 M224.40,325.64 L226.24,323.80 M224.40,333.80 L215.57,328.70 M219.54,331.00 L215.87,331.98 M219.54,331.00 L218.56,327.32 M217.33,329.72 L214.82,330.39 M217.33,329.72 L216.66,327.21 M224.40,333.80 L215.57,338.90 M219.54,336.61 L218.56,340.28 M219.54,336.61 L215.87,335.62 M217.33,337.88 L216.66,340.39 M217.33,337.88 L214.82,337.21 M224.40,333.80 L224.40,344.00 M224.40,339.41 L227.09,342.10 M224.40,339.41 L221.71,342.10 M224.40,341.96 L226.24,343.80 M224.40,341.96 L222.56,343.80 M224.40,333.80 L233.23,338.90 M229.26,336.61 L232.93,335.62 M229.26,336.61 L230.24,340.28 M231.47,337.88 L233.98,337.21 M231.47,337.88 L232.14,340.39 M224.40,333.80 L233.23,328.70 M229.26,331.00 L230.24,327.32 M229.26,331.00 L232.93,331.98 M231.47,329.72 L232.14,327.21 M231.47,329.72 L233.98,330.39" stroke="#4a8fd6" stroke-width="1.1" fill="none"/><polygon points="227.52,332.00 224.40,330.20 221.28,332.00 221.28,335.60 224.40,337.40 227.52,335.60" fill="#fff" stroke="#4a8fd6" stroke-width="1.1"/><clipPath id="ceb"><rect x="301.5" y="288.6" width="329" height="73.4"/></clipPath><g clip-path="url(#ceb)"><ellipse cx="445.5" cy="316" rx="141.2" ry="44" transform="rotate(-4.3 445.5 316)" fill="#e2e8f4"/></g><ellipse cx="559.8" cy="248" rx="64.5" ry="21.2" transform="rotate(17 559.8 248)" fill="#ead3dd"/><line x1="301.4" y1="215.4" x2="630.8" y2="215.4" stroke="#c4c4c4" stroke-width="0.9" /><line x1="630.8" y1="215.4" x2="630.8" y2="362.2" stroke="#c4c4c4" stroke-width="0.9" /><line x1="301.4" y1="215.4" x2="301.4" y2="362.2" stroke="#b0b0b0" stroke-width="0.9" /><line x1="301.4" y1="362.2" x2="534.6" y2="362.2" stroke="#b0b0b0" stroke-width="0.9" /><line x1="541.4" y1="362.2" x2="583.6" y2="362.2" stroke="#b0b0b0" stroke-width="0.9" /><line x1="590.4" y1="362.2" x2="630.8" y2="362.2" stroke="#b0b0b0" stroke-width="0.9" /><rect x="298" y="248.8" width="6" height="5.4" fill="#fff"/><rect x="298" y="276.2" width="6" height="5.4" fill="#fff"/><line x1="299.0" y1="251.39999999999998" x2="303.79999999999995" y2="248.0" stroke="#555" stroke-width="0.8" /><line x1="299.0" y1="254.39999999999998" x2="303.79999999999995" y2="251.0" stroke="#555" stroke-width="0.8" /><line x1="299.0" y1="278.8" x2="303.79999999999995" y2="275.40000000000003" stroke="#555" stroke-width="0.8" /><line x1="299.0" y1="281.8" x2="303.79999999999995" y2="278.40000000000003" stroke="#555" stroke-width="0.8" /><line x1="534.0" y1="364.8" x2="537.0" y2="359.59999999999997" stroke="#555" stroke-width="0.8" /><line x1="537.0" y1="364.8" x2="540.0" y2="359.59999999999997" stroke="#555" stroke-width="0.8" /><line x1="583.0" y1="364.8" x2="586.0" y2="359.59999999999997" stroke="#555" stroke-width="0.8" /><line x1="586.0" y1="364.8" x2="589.0" y2="359.59999999999997" stroke="#555" stroke-width="0.8" /><line x1="298.4" y1="232.2" x2="301.4" y2="232.2" stroke="#555" stroke-width="0.8" /><text x="294.4" y="234.79999999999998" font-size="7.6" text-anchor="end" fill="#231f20" font-weight="normal" font-style="normal" >261</text><line x1="298.4" y1="267" x2="301.4" y2="267" stroke="#555" stroke-width="0.8" /><text x="294.4" y="269.6" font-size="7.6" text-anchor="end" fill="#231f20" font-weight="normal" font-style="normal" >138</text><line x1="298.4" y1="288" x2="301.4" y2="288" stroke="#555" stroke-width="0.8" /><text x="294.4" y="290.6" font-size="7.6" text-anchor="end" fill="#231f20" font-weight="normal" font-style="normal" >100</text><line x1="298.4" y1="312.6" x2="301.4" y2="312.6" stroke="#555" stroke-width="0.8" /><text x="294.4" y="315.20000000000005" font-size="7.6" text-anchor="end" fill="#231f20" font-weight="normal" font-style="normal" >75</text><line x1="298.4" y1="337.3" x2="301.4" y2="337.3" stroke="#555" stroke-width="0.8" /><text x="294.4" y="339.90000000000003" font-size="7.6" text-anchor="end" fill="#231f20" font-weight="normal" font-style="normal" >50</text><line x1="298.4" y1="362" x2="301.4" y2="362" stroke="#555" stroke-width="0.8" /><text x="294.4" y="364.6" font-size="7.6" text-anchor="end" fill="#231f20" font-weight="normal" font-style="normal" >25</text><line x1="301.4" y1="362.2" x2="301.4" y2="365.2" stroke="#555" stroke-width="0.8" /><text x="301.4" y="376.6" font-size="7.6" text-anchor="middle" fill="#231f20" font-weight="normal" font-style="normal" >0</text><line x1="343.92999999999995" y1="362.2" x2="343.92999999999995" y2="365.2" stroke="#555" stroke-width="0.8" /><text x="343.92999999999995" y="376.6" font-size="7.6" text-anchor="middle" fill="#231f20" font-weight="normal" font-style="normal" >20</text><line x1="386.46" y1="362.2" x2="386.46" y2="365.2" stroke="#555" stroke-width="0.8" /><text x="386.46" y="376.6" font-size="7.6" text-anchor="middle" fill="#231f20" font-weight="normal" font-style="normal" >40</text><line x1="428.99" y1="362.2" x2="428.99" y2="365.2" stroke="#555" stroke-width="0.8" /><text x="428.99" y="376.6" font-size="7.6" text-anchor="middle" fill="#231f20" font-weight="normal" font-style="normal" >60</text><line x1="471.52" y1="362.2" x2="471.52" y2="365.2" stroke="#555" stroke-width="0.8" /><text x="471.52" y="376.6" font-size="7.6" text-anchor="middle" fill="#231f20" font-weight="normal" font-style="normal" >80</text><line x1="514.05" y1="362.2" x2="514.05" y2="365.2" stroke="#555" stroke-width="0.8" /><text x="514.05" y="376.6" font-size="7.6" text-anchor="middle" fill="#231f20" font-weight="normal" font-style="normal" >100</text><line x1="562.0" y1="362.2" x2="562.0" y2="365.2" stroke="#555" stroke-width="0.8" /><text x="562.0" y="376.6" font-size="7.6" text-anchor="middle" fill="#231f20" font-weight="normal" font-style="normal" >200</text><line x1="611.0" y1="362.2" x2="611.0" y2="365.2" stroke="#555" stroke-width="0.8" /><text x="611.0" y="376.6" font-size="7.6" text-anchor="middle" fill="#231f20" font-weight="normal" font-style="normal" >300</text><text x="465.2" y="389.4" font-size="8" text-anchor="middle" fill="#231f20" font-weight="normal" font-style="normal" >Current density (mA cm<tspan font-size="5.4" dy="-3">−2</tspan><tspan dy="3">)</tspan></text><text transform="translate(273.6,293.3) rotate(-90)" font-size="9.5" text-anchor="middle" fill="#231f20">Electrical energy efficiency (%)</text><line x1="301.4" y1="288" x2="630.8" y2="288" stroke="#b0b0b0" stroke-width="1.0" stroke-dasharray="4.2,2.4"/><linearGradient id="gUpA" gradientUnits="userSpaceOnUse" x1="0" y1="255.5" x2="0" y2="288"><stop offset="0" stop-color="#6c1a48"/><stop offset="0.52" stop-color="#dcc4d0"/><stop offset="1" stop-color="#eeeef0"/></linearGradient><polygon points="454,255.4 499.4,272.4 476.5,272.4 476.5,287.6 430.7,287.6 430.7,272.4 408.6,272.4" fill="url(#gUpA)"/><text x="427.6" y="247.2" font-size="9.2" fill="#8b3a66"><tspan font-style="italic">η</tspan><tspan font-size="6.6" dy="1.5">EEE</tspan><tspan dy="-1.5"> &gt; 100%</tspan></text><linearGradient id="gDnA" gradientUnits="userSpaceOnUse" x1="0" y1="288.6" x2="0" y2="336.4"><stop offset="0" stop-color="#f3f3f5"/><stop offset="1" stop-color="#3272b4"/></linearGradient><polygon points="599.5,288.6 608.3,288.6 608.3,326.2 613.2,326.2 603.9,336.4 594.6,326.2 599.5,326.2" fill="url(#gDnA)"/><text x="574.4" y="351.8" font-size="9.1" fill="#3d6fb2"><tspan font-style="italic">η</tspan><tspan font-size="6.6" dy="1.6">EEE</tspan><tspan dy="-1.6"> &lt; 100%</tspan></text><polygon points="513.40,221.00 510.34,229.19 501.61,229.57 508.45,235.01 506.11,243.43 513.40,238.61 520.69,243.43 518.35,235.01 525.19,229.57 516.46,229.19" fill="#c9303b"/><polygon points="609.60,254.20 606.64,262.12 598.19,262.49 604.81,267.76 602.55,275.91 609.60,271.24 616.65,275.91 614.39,267.76 621.01,262.49 612.56,262.12" fill="#c9303b"/><text transform="translate(561.8,251.6) rotate(17)" font-size="10.3" font-style="italic" text-anchor="middle" fill="#c0283a">This work</text><circle cx="315.8" cy="226.6" r="3.6" fill="none" stroke="#555" stroke-width="0.8"/><polygon points="316.2,234.6 320.2,241.4 312.2,241.4" fill="none" stroke="#555" stroke-width="0.8"/><polygon points="315.8,245.6 319.8,249.6 315.8,253.6 311.8,249.6" fill="none" stroke="#555" stroke-width="0.8"/><polygon points="352.2,223.4 360.2,223.4 356.2,230.2" fill="none" stroke="#555" stroke-width="0.8"/><rect x="352.8" y="234.4" width="6.6" height="6.6" fill="none" stroke="#555" stroke-width="0.8"/><polygon points="356.20,245.80 352.21,248.70 353.73,253.40 358.67,253.40 360.19,248.70" fill="none" fill-opacity="1" stroke="#555" stroke-width="0.8"/><text x="324.4" y="229.2" font-size="7.0" text-anchor="start" fill="#231f20" font-weight="normal" font-style="normal" >Zn-Air</text><text x="324.4" y="241.1" font-size="7.0" text-anchor="start" fill="#231f20" font-weight="normal" font-style="normal" >Zn/V-I</text><text x="324.4" y="252.4" font-size="7.0" text-anchor="start" fill="#231f20" font-weight="normal" font-style="normal" >Zn-Mn</text><text x="364.6" y="229.2" font-size="7.0" text-anchor="start" fill="#231f20" font-weight="normal" font-style="normal" >Zn-Fe</text><text x="364.6" y="241.1" font-size="7.0" text-anchor="start" fill="#231f20" font-weight="normal" font-style="normal" >S-Fe</text><text x="364.6" y="252.4" font-size="7.0" text-anchor="start" fill="#231f20" font-weight="normal" font-style="normal" >Organic</text><circle cx="322.6" cy="331.4" r="9.6" fill="#e6b3b8" stroke="#dc5a52" stroke-width="1.5"/><polygon points="343.6,303.6 347.3,307.3 343.6,311 339.9,307.3" fill="#9a6a90" stroke="#7b4a72" stroke-width="0.8"/><polygon points="364.8,315.4 369.2,323.2 360.4,323.2" fill="#8db4e2" stroke="#3f7dc0" stroke-width="0.9"/><rect x="377" y="309" width="19" height="18" fill="#f2c79e" fill-opacity="0.85" stroke="#f08c4c" stroke-width="1.5"/><polygon points="386.40,308.80 373.66,318.06 378.52,333.04 394.28,333.04 399.14,318.06" fill="#efd0b0" fill-opacity="0.6" stroke="#ee8a48" stroke-width="1.5"/><polygon points="401.6,300.6 412.4,300.6 407,309.2" fill="#c2e3d6" stroke="#92d0b8" stroke-width="1"/><circle cx="407.5" cy="332.2" r="8.2" fill="#dceae2" stroke="#1f8b8b" stroke-width="1.5"/><polygon points="428.80,295.60 423.47,299.47 425.51,305.73 432.09,305.73 434.13,299.47" fill="#92d0cf" fill-opacity="1" stroke="#62b3b3" stroke-width="0.9"/><polygon points="471.1,309.2 481.4,326.2 460.8,326.2" fill="#e9c3cf" stroke="#d95a55" stroke-width="1.3"/><polygon points="561.4,312.6 565.6,320.4 557.2,320.4" fill="#9d95d2" stroke="#7d74c0" stroke-width="0.8"/><text x="324.4" y="302.2" font-size="8.0" text-anchor="start" fill="#231f20" font-weight="normal" font-style="normal" >Ref. <tspan font-size="5.6" dy="-3.2">21</tspan></text><text x="365.4" y="303.4" font-size="8.0" text-anchor="start" fill="#231f20" font-weight="normal" font-style="normal" >Ref. <tspan font-size="5.6" dy="-3.2">35</tspan></text><text x="343" y="334.4" font-size="8.0" text-anchor="start" fill="#231f20" font-weight="normal" font-style="normal" >Ref. <tspan font-size="5.6" dy="-3.2">30</tspan></text><text x="375.2" y="345.6" font-size="8.0" text-anchor="start" fill="#231f20" font-weight="normal" font-style="normal" >Ref. <tspan font-size="5.6" dy="-3.2">34</tspan></text><text x="314" y="357" font-size="8.0" text-anchor="start" fill="#231f20" font-weight="normal" font-style="normal" >Ref. <tspan font-size="5.6" dy="-3.2">29</tspan></text><text x="398.2" y="297.4" font-size="8.0" text-anchor="start" fill="#231f20" font-weight="normal" font-style="normal" >Ref. <tspan font-size="5.6" dy="-3.2">20</tspan></text><text x="433.4" y="313.2" font-size="8.0" text-anchor="start" fill="#231f20" font-weight="normal" font-style="normal" >Ref. <tspan font-size="5.6" dy="-3.2">33</tspan></text><text x="478.8" y="313.2" font-size="8.0" text-anchor="start" fill="#231f20" font-weight="normal" font-style="normal" >Ref. <tspan font-size="5.6" dy="-3.2">32</tspan></text><text x="555" y="306.4" font-size="8.0" text-anchor="start" fill="#231f20" font-weight="normal" font-style="normal" >Ref. <tspan font-size="5.6" dy="-3.2">31</tspan></text><text x="419.6" y="345.0" font-size="8.0" text-anchor="start" fill="#231f20" font-weight="normal" font-style="normal" >Ref. <tspan font-size="5.6" dy="-3.2">29</tspan></text><rect x="639.2" y="216.40" width="16.4" height="8.0" fill="#fdd48b"/><text x="670.2" y="223.20000000000002" font-size="7.2" text-anchor="middle" fill="#231f20" font-weight="normal" font-style="normal" >3000</text><rect x="639.2" y="230.30" width="16.4" height="8.0" fill="#f9944f"/><text x="670.2" y="237.10000000000002" font-size="7.2" text-anchor="middle" fill="#231f20" font-weight="normal" font-style="normal" >2000</text><rect x="639.2" y="244.20" width="16.4" height="8.0" fill="#e96145"/><text x="670.2" y="251.00000000000003" font-size="7.2" text-anchor="middle" fill="#231f20" font-weight="normal" font-style="normal" >1200</text><rect x="639.2" y="258.10" width="16.4" height="8.0" fill="#c82f4b"/><text x="670.2" y="264.90000000000003" font-size="7.2" text-anchor="middle" fill="#231f20" font-weight="normal" font-style="normal" >1000</text><rect x="639.2" y="272.00" width="16.4" height="8.0" fill="#d6ebb9"/><text x="670.2" y="278.8" font-size="7.2" text-anchor="middle" fill="#231f20" font-weight="normal" font-style="normal" >950</text><rect x="639.2" y="285.90" width="16.4" height="8.0" fill="#8ccfac"/><text x="670.2" y="292.7" font-size="7.2" text-anchor="middle" fill="#231f20" font-weight="normal" font-style="normal" >600</text><rect x="639.2" y="299.80" width="16.4" height="8.0" fill="#50b4a6"/><text x="670.2" y="306.6" font-size="7.2" text-anchor="middle" fill="#231f20" font-weight="normal" font-style="normal" >550</text><rect x="639.2" y="313.70" width="16.4" height="8.0" fill="#3b80c2"/><text x="670.2" y="320.5" font-size="7.2" text-anchor="middle" fill="#231f20" font-weight="normal" font-style="normal" >350</text><rect x="639.2" y="327.60" width="16.4" height="8.0" fill="#5a4b9f"/><text x="670.2" y="334.40000000000003" font-size="7.2" text-anchor="middle" fill="#231f20" font-weight="normal" font-style="normal" >250</text><rect x="639.2" y="341.50" width="16.4" height="8.0" fill="#4a0927"/><text x="670.2" y="348.3" font-size="7.2" text-anchor="middle" fill="#231f20" font-weight="normal" font-style="normal" >200</text><text x="659.4" y="362.2" font-size="8" text-anchor="middle" fill="#231f20" font-weight="normal" font-style="normal" >Cycle number</text><clipPath id="cf"><rect x="13.9" y="412.0" width="319.70000000000005" height="181.0"/></clipPath><linearGradient id="bgF2" x1="0" y1="0" x2="1" y2="0"><stop offset="0" stop-color="#d9ddf2"/><stop offset="0.3" stop-color="#e4e6f4"/><stop offset="0.5" stop-color="#ececf3"/><stop offset="0.75" stop-color="#e4e5f1"/><stop offset="1" stop-color="#d2d6ee"/></linearGradient><linearGradient id="flF" x1="0" y1="0" x2="0" y2="1"><stop offset="0" stop-color="#f2f2f5"/><stop offset="1" stop-color="#e2e2e8"/></linearGradient><linearGradient id="tankG" x1="0" y1="0" x2="1" y2="0"><stop offset="0" stop-color="#e8e2d8"/><stop offset="0.55" stop-color="#f6f3ee"/><stop offset="1" stop-color="#e6e0d5"/></linearGradient><linearGradient id="pumpG" x1="0" y1="0" x2="1" y2="0"><stop offset="0" stop-color="#e6e6ec"/><stop offset="0.3" stop-color="#f6f6f9"/><stop offset="1" stop-color="#e0e0e8"/></linearGradient><linearGradient id="roofG" x1="0" y1="0" x2="0" y2="1"><stop offset="0" stop-color="#eef0f4"/><stop offset="1" stop-color="#dfe2e8"/></linearGradient><linearGradient id="matG" x1="0" y1="0" x2="0" y2="1"><stop offset="0" stop-color="#2f7433"/><stop offset="1" stop-color="#276429"/></linearGradient><g clip-path="url(#cf)"><rect x="13.9" y="412.0" width="319.70000000000005" height="181.0" fill="url(#bgF2)"/><polygon points="13.9,512 60,507 300,504 333.6,505 333.6,594 13.9,594" fill="url(#flF)"/><path d="M13.9,525 Q32,523 47,517" stroke="#3d4d3a" stroke-width="0.8" fill="none"/><path d="M297,525.6 Q310,531 333.6,530.6" stroke="#3d5a3a" stroke-width="0.8" fill="none"/><ellipse cx="106.00" cy="521.0" rx="27.00" ry="3.4" fill="#f4f1ec"/><rect x="85.0" y="464.0" width="42.0" height="57.0" fill="url(#tankG)"/><ellipse cx="106.00" cy="465.0" rx="28.00" ry="3.4" fill="#f8f6f2" stroke="#d9d3c8" stroke-width="0.5"/><ellipse cx="240.00" cy="515.4" rx="20.30" ry="3.4" fill="#f4f1ec"/><rect x="225.7" y="466.3" width="28.6" height="49.099999999999966" fill="url(#tankG)"/><ellipse cx="240.00" cy="467.3" rx="21.30" ry="3.4" fill="#f8f6f2" stroke="#d9d3c8" stroke-width="0.5"/><path d="M90,461 L160,461 M199,461 L262,461" stroke="#fbfbfc" stroke-width="2.8" fill="none"/><path d="M90,462.6 L160,462.6 M199,462.6 L262,462.6" stroke="#cfd0d8" stroke-width="0.5" fill="none"/><path d="M135,461 L135,511 M148.5,478 L148.5,503 M211,461 L211,505 M219,478 L219,500" stroke="#c4c5d0" stroke-width="5.4" fill="none"/><path d="M135,461 L135,511 M148.5,478 L148.5,503 M211,461 L211,505 M219,478 L219,500" stroke="#fafafb" stroke-width="4.2" fill="none"/><path d="M137.2,461 L137.2,511 M149.5,470 L149.5,499 M213.2,461 L213.2,505 M221.2,470 L221.2,500" stroke="#d4d5dc" stroke-width="0.5" fill="none"/><path d="M137,481 L160,481 M199,481 L219,481" stroke="#fafafb" stroke-width="3.6" fill="none"/><rect x="85.5" y="456.5" width="5" height="6.5" fill="#c2c4ca"/><rect x="83.5" y="455" width="9" height="2" fill="#d6d7dc"/><rect x="116.5" y="456.5" width="5" height="6.5" fill="#c2c4ca"/><rect x="114.5" y="455" width="9" height="2" fill="#d6d7dc"/><rect x="211.5" y="456.5" width="5" height="6.5" fill="#c2c4ca"/><rect x="209.5" y="455" width="9" height="2" fill="#d6d7dc"/><rect x="244.5" y="456.5" width="5" height="6.5" fill="#c2c4ca"/><rect x="242.5" y="455" width="9" height="2" fill="#d6d7dc"/><path d="M51.5,540 L51.5,490 Q51.5,483 58,479.5 L86,466" stroke="#b9bac6" stroke-width="9" fill="none" stroke-linejoin="round"/><path d="M51.5,540 L51.5,490 Q51.5,483 58,479.5 L86,466" stroke="#fbfbfd" stroke-width="7.2" fill="none" stroke-linejoin="round"/><path d="M63,540 L63,493 Q63,486 69,483 L94,470" stroke="#b9bac6" stroke-width="9" fill="none" stroke-linejoin="round"/><path d="M63,540 L63,493 Q63,486 69,483 L94,470" stroke="#fbfbfd" stroke-width="7.2" fill="none" stroke-linejoin="round"/><path d="M279.3,540 L279.3,490 Q279.3,484 273,481 L262,468" stroke="#b9bac6" stroke-width="9" fill="none" stroke-linejoin="round"/><path d="M279.3,540 L279.3,490 Q279.3,484 273,481 L262,468" stroke="#fbfbfd" stroke-width="7.2" fill="none" stroke-linejoin="round"/><path d="M289.8,540 L289.8,492 Q289.8,486 283,483 L266,470" stroke="#b9bac6" stroke-width="9" fill="none" stroke-linejoin="round"/><path d="M289.8,540 L289.8,492 Q289.8,486 283,483 L266,470" stroke="#fbfbfd" stroke-width="7.2" fill="none" stroke-linejoin="round"/><rect x="47.0" y="488.5" width="51.0" height="69.5" rx="5" fill="url(#pumpG)" stroke="#d2d2da" stroke-width="0.6"/><rect x="50.0" y="489.5" width="45.0" height="6" rx="2" fill="#dfe1e8"/><rect x="56.69" y="500.5" width="23.46" height="14" fill="#fdfdfe" stroke="#c4d2e2" stroke-width="1.1"/><rect x="59.24" y="517.8" width="17.34" height="3.4" fill="#7aa4d8"/><rect x="245.0" y="488.5" width="52.2" height="57.5" rx="5" fill="url(#pumpG)" stroke="#d2d2da" stroke-width="0.6"/><rect x="248.0" y="489.5" width="46.2" height="6" rx="2" fill="#dfe1e8"/><rect x="254.92" y="500.5" width="24.01" height="14" fill="#fdfdfe" stroke="#c4d2e2" stroke-width="1.1"/><rect x="257.53" y="517.8" width="17.75" height="3.4" fill="#7aa4d8"/><path d="M51.5,548 L51.5,488" stroke="#b9bac6" stroke-width="8" fill="none"/><path d="M51.5,548 L51.5,488" stroke="#f9f9fb" stroke-width="6.4" fill="none"/><path d="M51.5,548 L51.5,488" stroke="#e2e3ea" stroke-width="1.4" fill="none" transform="translate(2,0)"/><path d="M63,548 L63,491" stroke="#b9bac6" stroke-width="8" fill="none"/><path d="M63,548 L63,491" stroke="#f9f9fb" stroke-width="6.4" fill="none"/><path d="M63,548 L63,491" stroke="#e2e3ea" stroke-width="1.4" fill="none" transform="translate(2,0)"/><path d="M279.3,545 L279.3,490" stroke="#b9bac6" stroke-width="8" fill="none"/><path d="M279.3,545 L279.3,490" stroke="#f9f9fb" stroke-width="6.4" fill="none"/><path d="M279.3,545 L279.3,490" stroke="#e2e3ea" stroke-width="1.4" fill="none" transform="translate(2,0)"/><path d="M289.8,545 L289.8,492" stroke="#b9bac6" stroke-width="8" fill="none"/><path d="M289.8,545 L289.8,492" stroke="#f9f9fb" stroke-width="6.4" fill="none"/><path d="M289.8,545 L289.8,492" stroke="#e2e3ea" stroke-width="1.4" fill="none" transform="translate(2,0)"/><rect x="159.3" y="451" width="40.3" height="43" rx="2" fill="#d6dadf" stroke="#a2a8ae" stroke-width="0.8"/><rect x="166.3" y="459.6" width="26.2" height="25" fill="#b9bfc5"/><rect x="173" y="466" width="5.6" height="4.4" fill="#d9dde0"/><rect x="179.6" y="466" width="5.6" height="4.4" fill="#d9dde0"/><rect x="173" y="471.5" width="5.6" height="4.4" fill="#d9dde0"/><rect x="179.6" y="471.5" width="5.6" height="4.4" fill="#d9dde0"/><rect x="173" y="477" width="5.6" height="4.4" fill="#d9dde0"/><rect x="179.6" y="477" width="5.6" height="4.4" fill="#d9dde0"/><rect x="177" y="452" width="4.6" height="12" fill="#a9b0b6"/><rect x="160" y="450" width="20" height="2" fill="#2f7a3c"/><rect x="180" y="450" width="19" height="2" fill="#c04a3a"/><circle cx="162.8" cy="455.5" r="1.6" fill="#a4abb2" stroke="#6e767e" stroke-width="0.5"/><circle cx="162.8" cy="464.0" r="1.6" fill="#a4abb2" stroke="#6e767e" stroke-width="0.5"/><circle cx="162.8" cy="472.5" r="1.6" fill="#a4abb2" stroke="#6e767e" stroke-width="0.5"/><circle cx="162.8" cy="481.0" r="1.6" fill="#a4abb2" stroke="#6e767e" stroke-width="0.5"/><circle cx="162.8" cy="489.5" r="1.6" fill="#a4abb2" stroke="#6e767e" stroke-width="0.5"/><circle cx="196.2" cy="455.5" r="1.6" fill="#a4abb2" stroke="#6e767e" stroke-width="0.5"/><circle cx="196.2" cy="464.0" r="1.6" fill="#a4abb2" stroke="#6e767e" stroke-width="0.5"/><circle cx="196.2" cy="472.5" r="1.6" fill="#a4abb2" stroke="#6e767e" stroke-width="0.5"/><circle cx="196.2" cy="481.0" r="1.6" fill="#a4abb2" stroke="#6e767e" stroke-width="0.5"/><circle cx="196.2" cy="489.5" r="1.6" fill="#a4abb2" stroke="#6e767e" stroke-width="0.5"/><circle cx="171" cy="455" r="1.4" fill="#868d95"/><circle cx="171" cy="490" r="1.4" fill="#868d95"/><circle cx="179.5" cy="455" r="1.4" fill="#868d95"/><circle cx="179.5" cy="490" r="1.4" fill="#868d95"/><circle cx="188" cy="455" r="1.4" fill="#868d95"/><circle cx="188" cy="490" r="1.4" fill="#868d95"/><rect x="163" y="493.5" width="31" height="7" fill="#4a7352"/><path d="M162,494 L162,503 M195,494 L195,503" stroke="#6a7a6c" stroke-width="0.6"/><rect x="165" y="495.6" width="27" height="1.1" fill="#a9bca9"/><rect x="165" y="498" width="27" height="1.0" fill="#a9bca9"/><polygon points="13.9,569 27.5,561.5 62,558 108,557 113,555 121,538 126,528.5 131,526 227,526 236,536 250,547 264,553 295,555.3 317.4,559.2 333.6,569.8 333.6,594 13.9,594" fill="url(#matG)"/><ellipse cx="160" cy="575" rx="60" ry="10" fill="#3a8240" opacity="0.35" filter="url(#bl2)"/><polygon points="141,504.3 218.1,504.3 227,525.2 131.4,525.2" fill="url(#roofG)" stroke="#b8bcc4" stroke-width="0.5"/><line x1="145.82" y1="504.5" x2="137.38" y2="525" stroke="#d0d4dc" stroke-width="0.35"/><line x1="150.64" y1="504.5" x2="143.35" y2="525" stroke="#d0d4dc" stroke-width="0.35"/><line x1="155.46" y1="504.5" x2="149.32" y2="525" stroke="#d0d4dc" stroke-width="0.35"/><line x1="160.28" y1="504.5" x2="155.30" y2="525" stroke="#d0d4dc" stroke-width="0.35"/><line x1="165.09" y1="504.5" x2="161.28" y2="525" stroke="#d0d4dc" stroke-width="0.35"/><line x1="169.91" y1="504.5" x2="167.25" y2="525" stroke="#d0d4dc" stroke-width="0.35"/><line x1="174.73" y1="504.5" x2="173.22" y2="525" stroke="#d0d4dc" stroke-width="0.35"/><line x1="179.55" y1="504.5" x2="179.20" y2="525" stroke="#d0d4dc" stroke-width="0.35"/><line x1="184.37" y1="504.5" x2="185.18" y2="525" stroke="#d0d4dc" stroke-width="0.35"/><line x1="189.19" y1="504.5" x2="191.15" y2="525" stroke="#d0d4dc" stroke-width="0.35"/><line x1="194.01" y1="504.5" x2="197.12" y2="525" stroke="#d0d4dc" stroke-width="0.35"/><line x1="198.82" y1="504.5" x2="203.10" y2="525" stroke="#d0d4dc" stroke-width="0.35"/><line x1="203.64" y1="504.5" x2="209.07" y2="525" stroke="#d0d4dc" stroke-width="0.35"/><line x1="208.46" y1="504.5" x2="215.05" y2="525" stroke="#d0d4dc" stroke-width="0.35"/><line x1="213.28" y1="504.5" x2="221.03" y2="525" stroke="#d0d4dc" stroke-width="0.35"/><line x1="138.61" y1="509.50" x2="220.32" y2="509.50" stroke="#d4d8de" stroke-width="0.35"/><line x1="136.22" y1="514.70" x2="222.53" y2="514.70" stroke="#d4d8de" stroke-width="0.35"/><line x1="133.82" y1="519.90" x2="224.75" y2="519.90" stroke="#d4d8de" stroke-width="0.35"/><rect x="131.4" y="525.2" width="95.6" height="33.2" fill="#c0c4cd"/><rect x="131.4" y="525.2" width="95.6" height="1.2" fill="#b4b8c0"/><rect x="137" y="544" width="19.3" height="13.6" fill="#efcdbd"/><rect x="139" y="546" width="15.3" height="9" fill="#f6ddd0"/><rect x="137" y="555.8" width="19.3" height="1.8" fill="#f7ece6"/><rect x="159.2" y="544" width="18.8" height="13.6" fill="#efcdbd"/><rect x="161.2" y="546" width="14.8" height="9" fill="#f6ddd0"/><rect x="159.2" y="555.8" width="18.8" height="1.8" fill="#f7ece6"/><rect x="181.2" y="544" width="18.5" height="13.6" fill="#efcdbd"/><rect x="183.2" y="546" width="14.5" height="9" fill="#f6ddd0"/><rect x="181.2" y="555.8" width="18.5" height="1.8" fill="#f7ece6"/><rect x="203.4" y="544" width="18" height="13.6" fill="#efcdbd"/><rect x="205.4" y="546" width="14" height="9" fill="#f6ddd0"/><rect x="203.4" y="555.8" width="18" height="1.8" fill="#f7ece6"/><rect x="138.6" y="531.4" width="1.9" height="5.2" fill="#e2ad9a"/><rect x="145.0" y="531.4" width="1.9" height="5.2" fill="#e2ad9a"/><rect x="157.0" y="531.4" width="1.9" height="5.2" fill="#e2ad9a"/><rect x="163.4" y="531.4" width="1.9" height="5.2" fill="#e2ad9a"/><rect x="175.1" y="531.4" width="1.9" height="5.2" fill="#e2ad9a"/><rect x="181.6" y="531.4" width="1.9" height="5.2" fill="#e2ad9a"/><rect x="193.1" y="531.4" width="1.9" height="5.2" fill="#e2ad9a"/><rect x="199.6" y="531.4" width="1.9" height="5.2" fill="#e2ad9a"/><rect x="211.6" y="531.4" width="1.9" height="5.2" fill="#e2ad9a"/><rect x="216.9" y="531.4" width="1.9" height="5.2" fill="#e2ad9a"/><ellipse cx="62" cy="562" rx="22" ry="4" fill="#1f4f22" opacity="0.5" filter="url(#bl1)"/><rect x="41.7" y="555" width="1.1" height="13" fill="#2d3a28"/><path d="M42.2,538.2 Q45.7,541 46.7,546 Q49.400000000000006,552 48.6,556 Q45.2,559.5 42.2,559 Q39.2,559.5 35.800000000000004,556 Q35.0,552 37.7,546 Q38.7,541 42.2,538.2 Z" fill="#2a6829"/><path d="M41.7,540 Q39.2,545 37.7,551 Q40.2,554 42.7,550 Q43.2,544 41.7,540 Z" fill="#3f8a3e" opacity="0.8"/><rect x="56.3" y="555.5" width="1.1" height="13" fill="#2d3a28"/><path d="M56.8,538.7 Q60.3,541.5 61.3,546.5 Q64.0,552.5 63.199999999999996,556.5 Q59.8,560.0 56.8,559.5 Q53.8,560.0 50.4,556.5 Q49.599999999999994,552.5 52.3,546.5 Q53.3,541.5 56.8,538.7 Z" fill="#2a6829"/><path d="M56.3,540.5 Q53.8,545.5 52.3,551.5 Q54.8,554.5 57.3,550.5 Q57.8,544.5 56.3,540.5 Z" fill="#3f8a3e" opacity="0.8"/><rect x="73.3" y="555.5" width="1.1" height="13" fill="#2d3a28"/><path d="M73.8,538.7 Q77.3,541.5 78.3,546.5 Q81.0,552.5 80.2,556.5 Q76.8,560.0 73.8,559.5 Q70.8,560.0 67.39999999999999,556.5 Q66.6,552.5 69.3,546.5 Q70.3,541.5 73.8,538.7 Z" fill="#2a6829"/><path d="M73.3,540.5 Q70.8,545.5 69.3,551.5 Q71.8,554.5 74.3,550.5 Q74.8,544.5 73.3,540.5 Z" fill="#3f8a3e" opacity="0.8"/><path d="M105.3,549 L104.3,513 Q104.6,507.4 112.6,506.2" stroke="#3f4a3f" stroke-width="0.8" fill="none"/><circle cx="114.4" cy="506.6" r="2.2" fill="#fff4c8" filter="url(#bl1)"/><ellipse cx="268" cy="544" rx="13" ry="7" fill="#ee6f7c" opacity="0.85" filter="url(#bl1)"/><ellipse cx="262" cy="542.6" rx="7" ry="3.2" fill="#ffe6e8" opacity="0.95" filter="url(#bl1)"/><circle cx="283" cy="547.4" r="6.2" fill="#ef8e96" opacity="0.9"/><path d="M203.4,565.5 Q206,559 219.5,553.6 L233.9,545.2 Q248,543 265,546.4 Q270,549 271,553.6 L272.2,562 L269.8,566.7 L262.6,568 L245.9,572.7 L233.9,577.5 L226.7,582.3 L218.3,582.3 L205.2,575.1 Z" fill="#eceef2" stroke="#b4bac2" stroke-width="0.5"/><path d="M220.1,554.8 L233.9,545.2 L248.3,544 L265,547 L269.8,551.2 L254.3,556 L241.1,558.3 L237.5,562.5 Z" fill="#4a525c"/><path d="M204.6,571.5 L216,574.6 L218,579.6 L206,576 Z" fill="#5a6068"/><circle cx="230.9" cy="577.5" r="4.3" fill="#2c2f34"/><circle cx="265.6" cy="563.7" r="3.7" fill="#2c2f34"/><circle cx="230.9" cy="577.5" r="1.8" fill="#8d939a"/><circle cx="265.6" cy="563.7" r="1.5" fill="#8d939a"/><path d="M236.3,570 L244.7,571.6" stroke="#4b8ede" stroke-width="2"/><path d="M216,572.7 L224.3,572.2" stroke="#6aa0e0" stroke-width="1.2"/><path d="M245,562 L262,557" stroke="#cfd3d9" stroke-width="0.6"/><path d="M286,555.5 L295,573" stroke="#c83c3a" stroke-width="1.6"/><polygon points="289,577 310,576 313.5,585 292,586.5" fill="#878b91"/><path d="M296.5,551 Q302,545.8 312,547.6 Q320.5,549 320.6,555 L315,581 L298,581.5 Z" fill="#6a7178"/><ellipse cx="308.5" cy="549.2" rx="11.5" ry="3.8" fill="#8a9097" transform="rotate(8 308.5 549.2)"/><path d="M304,566 L309,556 L313,572 Z" fill="none" stroke="#3a86c8" stroke-width="1.4"/><path d="M298.5,571 L296.6,556" stroke="#8d949b" stroke-width="1"/></g><text x="58.2" y="425.6" font-size="9.3" font-weight="bold" fill="#2f8a3a">A practical waste-energy-storage integration system</text><text x="63.7" y="445.4" font-size="7.9" text-anchor="middle" fill="#231f20" font-weight="normal" font-style="normal" >Electrolyte tank 1</text><text x="64.1" y="455.2" font-size="8.0" text-anchor="middle" fill="#231f20" font-weight="normal" font-style="normal" >(with N<tspan font-size="5.6" dy="1.6">2</tspan><tspan dy="-1.6">H</tspan><tspan font-size="5.6" dy="1.6">4</tspan><tspan dy="-1.6"> pollutant)</tspan></text><text x="179.1" y="446.4" font-size="8.3" font-weight="bold" fill="#2f8a3a" text-anchor="middle">20 Ah ODB</text><text x="276.5" y="455.8" font-size="8.1" text-anchor="middle" fill="#231f20" font-weight="normal" font-style="normal" >Electrolyte tank 2</text><text x="15.2" y="512.6" font-size="8.9" text-anchor="start" fill="#231f20" font-weight="normal" font-style="normal" >Pump 1</text><text x="299.4" y="513.8" font-size="9.1" text-anchor="start" fill="#231f20" font-weight="normal" font-style="normal" >Pump 2</text><text x="114.9" y="496.2" font-size="8.6" text-anchor="middle" fill="#d42a2a" font-weight="normal" font-style="normal" >Work</text><text x="254.9" y="532.8" font-size="8.6" text-anchor="middle" fill="#d42a2a" font-weight="normal" font-style="normal" >Work</text><text x="190.1" y="550.6" font-size="8.6" text-anchor="middle" fill="#d42a2a" font-weight="normal" font-style="normal" >Work</text><circle cx="115.6" cy="507.6" r="7.6" fill="none" stroke="#cc2026" stroke-width="1.3"/><ellipse cx="261.4" cy="544.2" rx="14.6" ry="7.8" fill="none" stroke="#cc2026" stroke-width="1.3"/><text x="162.2" y="579.2" font-size="8.0" text-anchor="middle" fill="#ffffff" font-weight="normal" font-style="normal" >Stationary electrical</text><text x="162" y="588.8" font-size="8.2" text-anchor="middle" fill="#ffffff" font-weight="normal" font-style="normal" >equipment</text><line x1="105.3" y1="548.6" x2="128.2" y2="569.4" stroke="#ffffff" stroke-width="1.1" /><circle cx="105.3" cy="548.6" r="2.8" fill="#ffffff"/><line x1="169.2" y1="551" x2="169.2" y2="570.4" stroke="#ffffff" stroke-width="1.1" /><circle cx="169.2" cy="551" r="2.8" fill="#ffffff"/><line x1="199" y1="587.2" x2="293" y2="581.6" stroke="#ffffff" stroke-width="1.1" /><circle cx="294.2" cy="581.5" r="3" fill="#ffffff"/><text x="37.8" y="580.4" font-size="9.0" text-anchor="middle" fill="#ffffff" font-weight="normal" font-style="normal" >10 cm</text><rect x="18.8" y="584.6" width="36.4" height="4" fill="#ffffff"/><polygon points="387.70,469.30 388.85,470.08 390.00,470.60 391.10,471.28 392.20,471.72 393.30,472.11 394.40,472.60 395.52,472.71 396.64,472.94 397.76,473.24 398.88,472.83 400.00,473.20 401.00,473.00 402.00,473.55 403.00,473.75 404.00,473.56 405.00,473.60 406.00,473.88 407.00,473.59 408.00,473.74 409.00,473.78 410.00,474.13 411.00,474.03 412.00,474.06 413.00,474.47 414.00,474.74 415.00,474.37 416.00,474.60 417.00,474.82 418.00,474.69 419.00,475.07 420.00,474.96 421.00,474.81 422.00,474.85 423.00,474.78 424.00,475.18 425.00,475.18 426.00,475.11 427.00,475.32 428.00,475.36 429.00,475.75 430.00,475.39 431.00,476.05 432.00,475.77 433.00,475.93 434.00,475.91 435.00,476.24 436.00,476.31 437.00,476.20 438.00,476.22 439.00,476.46 440.00,476.63 441.00,476.38 442.00,476.69 443.00,476.60 444.00,476.99 445.00,476.70 446.00,476.60 447.00,476.67 448.00,477.07 449.00,477.10 450.00,477.37 451.00,477.36 452.00,476.99 453.00,477.02 454.00,477.13 455.00,477.14 456.00,477.57 457.00,477.74 458.00,477.83 459.00,477.45 460.00,477.94 461.00,477.61 462.00,477.76 463.00,478.03 464.00,477.65 465.00,478.00 466.01,477.79 467.02,478.38 468.03,478.07 469.04,478.19 470.06,478.42 471.07,478.56 472.08,478.16 473.09,478.46 474.10,478.61 475.11,478.71 476.12,478.59 477.13,478.93 478.14,479.26 479.16,478.93 480.17,479.11 481.18,478.89 482.19,479.07 483.20,479.30 483.60,470.60 484.63,470.78 485.66,470.45 486.69,471.06 487.72,471.13 488.75,470.63 489.78,471.28 490.82,470.94 491.85,471.28 492.88,471.33 493.91,471.07 494.94,471.40 495.97,471.45 497.00,471.40 498.00,471.77 499.00,471.54 500.00,472.04 501.00,472.34 502.00,472.29 503.00,472.35 504.00,472.21 505.00,472.63 506.00,472.68 507.00,473.09 508.00,473.22 509.00,473.29 510.00,473.40 511.00,473.30 512.00,473.74 513.00,473.85 514.00,473.66 515.00,474.27 516.00,474.23 517.00,473.98 518.00,474.66 519.00,474.23 520.00,474.60 521.00,474.51 522.00,474.81 523.00,474.75 524.00,474.75 525.00,474.85 526.00,474.74 527.00,474.80 528.23,474.77 529.45,474.77 530.67,474.80 531.90,475.20 531.9,566.4 387.7,566.4" fill="url(#hG)"/><rect x="531.9" y="542.4" width="143.60" height="24.00" fill="url(#hB)"/><line x1="387.7" y1="440.4" x2="675.5" y2="440.4" stroke="#c4c4c4" stroke-width="0.9" /><line x1="675.5" y1="440.4" x2="675.5" y2="566.4" stroke="#c4c4c4" stroke-width="0.9" /><line x1="387.7" y1="440.4" x2="387.7" y2="566.4" stroke="#b0b0b0" stroke-width="0.9" /><line x1="387.7" y1="566.4" x2="675.5" y2="566.4" stroke="#b0b0b0" stroke-width="0.9" /><line x1="384.7" y1="566.4" x2="387.7" y2="566.4" stroke="#555" stroke-width="0.8" /><line x1="384.7" y1="548.4" x2="387.7" y2="548.4" stroke="#555" stroke-width="0.8" /><line x1="384.7" y1="530.4" x2="387.7" y2="530.4" stroke="#555" stroke-width="0.8" /><line x1="384.7" y1="512.4" x2="387.7" y2="512.4" stroke="#555" stroke-width="0.8" /><line x1="384.7" y1="494.4" x2="387.7" y2="494.4" stroke="#555" stroke-width="0.8" /><line x1="384.7" y1="476.4" x2="387.7" y2="476.4" stroke="#555" stroke-width="0.8" /><line x1="384.7" y1="458.4" x2="387.7" y2="458.4" stroke="#555" stroke-width="0.8" /><text x="381.4" y="569.0" font-size="7.6" text-anchor="end" fill="#231f20" font-weight="normal" font-style="normal" >0.0</text><text x="381.4" y="533.0" font-size="7.6" text-anchor="end" fill="#231f20" font-weight="normal" font-style="normal" >0.5</text><text x="381.4" y="497.0" font-size="7.6" text-anchor="end" fill="#231f20" font-weight="normal" font-style="normal" >1.0</text><text x="381.4" y="461.0" font-size="7.6" text-anchor="end" fill="#231f20" font-weight="normal" font-style="normal" >1.5</text><line x1="387.7" y1="566.4" x2="387.7" y2="569.4" stroke="#555" stroke-width="0.8" /><line x1="423.7" y1="566.4" x2="423.7" y2="569.4" stroke="#555" stroke-width="0.8" /><line x1="459.7" y1="566.4" x2="459.7" y2="569.4" stroke="#555" stroke-width="0.8" /><line x1="495.7" y1="566.4" x2="495.7" y2="569.4" stroke="#555" stroke-width="0.8" /><line x1="531.7" y1="566.4" x2="531.7" y2="569.4" stroke="#555" stroke-width="0.8" /><line x1="567.7" y1="566.4" x2="567.7" y2="569.4" stroke="#555" stroke-width="0.8" /><line x1="603.7" y1="566.4" x2="603.7" y2="569.4" stroke="#555" stroke-width="0.8" /><line x1="639.7" y1="566.4" x2="639.7" y2="569.4" stroke="#555" stroke-width="0.8" /><line x1="675.7" y1="566.4" x2="675.7" y2="569.4" stroke="#555" stroke-width="0.8" /><text x="387.7" y="581.8" font-size="7.6" text-anchor="middle" fill="#231f20" font-weight="normal" font-style="normal" >0</text><text x="459.7" y="581.8" font-size="7.6" text-anchor="middle" fill="#231f20" font-weight="normal" font-style="normal" >10</text><text x="531.7" y="581.8" font-size="7.6" text-anchor="middle" fill="#231f20" font-weight="normal" font-style="normal" >20</text><text x="603.7" y="581.8" font-size="7.6" text-anchor="middle" fill="#231f20" font-weight="normal" font-style="normal" >30</text><text x="675.7" y="581.8" font-size="7.6" text-anchor="middle" fill="#231f20" font-weight="normal" font-style="normal" >40</text><line x1="387.7" y1="437.4" x2="387.7" y2="440.4" stroke="#555" stroke-width="0.8" /><text x="387.7" y="432.6" font-size="7.6" text-anchor="middle" fill="#231f20" font-weight="normal" font-style="normal" >0</text><line x1="434.5" y1="437.4" x2="434.5" y2="440.4" stroke="#555" stroke-width="0.8" /><text x="434.5" y="432.6" font-size="7.6" text-anchor="middle" fill="#231f20" font-weight="normal" font-style="normal" >3</text><line x1="481.29999999999995" y1="437.4" x2="481.29999999999995" y2="440.4" stroke="#555" stroke-width="0.8" /><text x="481.29999999999995" y="432.6" font-size="7.6" text-anchor="middle" fill="#231f20" font-weight="normal" font-style="normal" >6</text><line x1="528.1" y1="437.4" x2="528.1" y2="440.4" stroke="#555" stroke-width="0.8" /><text x="528.1" y="432.6" font-size="7.6" text-anchor="middle" fill="#231f20" font-weight="normal" font-style="normal" >9</text><line x1="574.9" y1="437.4" x2="574.9" y2="440.4" stroke="#555" stroke-width="0.8" /><text x="574.9" y="432.6" font-size="7.6" text-anchor="middle" fill="#231f20" font-weight="normal" font-style="normal" >12</text><line x1="621.7" y1="437.4" x2="621.7" y2="440.4" stroke="#555" stroke-width="0.8" /><text x="621.7" y="432.6" font-size="7.6" text-anchor="middle" fill="#231f20" font-weight="normal" font-style="normal" >15</text><line x1="668.5" y1="437.4" x2="668.5" y2="440.4" stroke="#555" stroke-width="0.8" /><text x="668.5" y="432.6" font-size="7.6" text-anchor="middle" fill="#231f20" font-weight="normal" font-style="normal" >18</text><text x="532.4" y="418.4" font-size="8.2" text-anchor="middle" fill="#231f20" font-weight="normal" font-style="normal" >Time (day)</text><text x="531.2" y="594.2" font-size="8" text-anchor="middle" fill="#231f20" font-weight="normal" font-style="normal" >Capacity (Ah)</text><text transform="translate(361.2,492.2) rotate(-90)" font-size="8.3" text-anchor="middle" fill="#231f20">Voltage (V)</text><polyline points="387.70,469.30 388.85,470.08 390.00,470.60 391.10,471.28 392.20,471.72 393.30,472.11 394.40,472.60 395.52,472.71 396.64,472.94 397.76,473.24 398.88,472.83 400.00,473.20 401.00,473.00 402.00,473.55 403.00,473.75 404.00,473.56 405.00,473.60 406.00,473.88 407.00,473.59 408.00,473.74 409.00,473.78 410.00,474.13 411.00,474.03 412.00,474.06 413.00,474.47 414.00,474.74 415.00,474.37 416.00,474.60 417.00,474.82 418.00,474.69 419.00,475.07 420.00,474.96 421.00,474.81 422.00,474.85 423.00,474.78 424.00,475.18 425.00,475.18 426.00,475.11 427.00,475.32 428.00,475.36 429.00,475.75 430.00,475.39 431.00,476.05 432.00,475.77 433.00,475.93 434.00,475.91 435.00,476.24 436.00,476.31 437.00,476.20 438.00,476.22 439.00,476.46 440.00,476.63 441.00,476.38 442.00,476.69 443.00,476.60 444.00,476.99 445.00,476.70 446.00,476.60 447.00,476.67 448.00,477.07 449.00,477.10 450.00,477.37 451.00,477.36 452.00,476.99 453.00,477.02 454.00,477.13 455.00,477.14 456.00,477.57 457.00,477.74 458.00,477.83 459.00,477.45 460.00,477.94 461.00,477.61 462.00,477.76 463.00,478.03 464.00,477.65 465.00,478.00 466.01,477.79 467.02,478.38 468.03,478.07 469.04,478.19 470.06,478.42 471.07,478.56 472.08,478.16 473.09,478.46 474.10,478.61 475.11,478.71 476.12,478.59 477.13,478.93 478.14,479.26 479.16,478.93 480.17,479.11 481.18,478.89 482.19,479.07 483.20,479.30 483.60,470.60 484.63,470.78 485.66,470.45 486.69,471.06 487.72,471.13 488.75,470.63 489.78,471.28 490.82,470.94 491.85,471.28 492.88,471.33 493.91,471.07 494.94,471.40 495.97,471.45 497.00,471.40 498.00,471.77 499.00,471.54 500.00,472.04 501.00,472.34 502.00,472.29 503.00,472.35 504.00,472.21 505.00,472.63 506.00,472.68 507.00,473.09 508.00,473.22 509.00,473.29 510.00,473.40 511.00,473.30 512.00,473.74 513.00,473.85 514.00,473.66 515.00,474.27 516.00,474.23 517.00,473.98 518.00,474.66 519.00,474.23 520.00,474.60 521.00,474.51 522.00,474.81 523.00,474.75 524.00,474.75 525.00,474.85 526.00,474.74 527.00,474.80 528.23,474.77 529.45,474.77 530.67,474.80 531.90,475.20" fill="none" stroke="#a8262a" stroke-width="1.4"/><line x1="531.9" y1="475.2" x2="531.9" y2="542.4" stroke="#8b3060" stroke-width="1.3" /><polyline points="531.90,542.40 532.98,542.33 534.05,542.15 535.12,541.83 536.20,541.74 537.27,541.32 538.35,541.06 539.42,540.93 540.50,540.80 541.54,540.95 542.58,540.37 543.62,540.57 544.65,540.34 545.69,540.58 546.73,540.25 547.77,540.16 548.81,540.13 549.85,540.13 550.88,540.19 551.92,539.87 552.96,540.09 554.00,539.80 555.00,539.27 556.00,539.06 557.00,538.66 558.00,538.60 559.40,537.17 560.80,536.20 562.20,531.00 562.60,526.20 563.10,540.80 564.18,540.93 565.26,540.86 566.35,540.50 567.43,540.47 568.51,540.57 569.59,540.73 570.67,540.73 571.75,540.66 572.84,540.53 573.92,540.22 575.00,540.40 576.00,540.35 577.00,540.24 578.00,540.46 579.00,540.50 580.00,540.29 581.00,540.34 582.00,540.67 583.00,540.23 584.00,540.71 585.00,540.78 586.00,540.83 587.00,540.50 588.00,540.62 589.00,540.60 590.40,541.45 591.80,542.20 592.82,542.23 593.83,542.39 594.85,542.17 595.86,541.90 596.88,542.19 597.89,541.91 598.91,541.94 599.92,541.97 600.94,541.49 601.95,541.90 602.97,541.79 603.98,541.64 605.00,541.60 606.00,541.54 607.00,541.43 608.00,541.20 609.00,541.33 610.00,540.96 611.00,541.16 612.00,541.18 613.00,540.98 614.00,540.99 615.00,541.15 616.00,540.80 617.00,540.86 618.00,540.23 619.00,540.44 620.00,540.16 621.00,539.64 622.00,539.65 623.00,539.40 624.00,539.12 625.00,539.20 626.15,538.52 627.30,538.06 628.45,536.99 629.60,536.40 630.80,533.92 632.00,531.00 632.90,522.70 633.40,540.60 634.44,540.68 635.48,540.31 636.51,540.70 637.55,540.51 638.59,540.67 639.62,540.50 640.66,540.48 641.70,540.21 642.74,540.45 643.77,540.48 644.81,540.40 645.85,540.11 646.89,540.27 647.92,540.07 648.96,539.80 650.00,540.00 651.00,539.69 652.00,539.67 653.00,539.70 654.00,539.64 655.00,539.80 656.00,539.88 657.00,539.74 658.00,539.63 659.00,539.73 660.00,539.48 661.00,539.54 662.00,539.67 663.00,539.42 664.00,539.25 665.00,539.40 666.05,539.59 667.10,539.43 668.15,539.17 669.20,539.12 670.25,539.17 671.30,539.16 672.35,538.88 673.40,538.70 674.45,538.78 675.50,538.90" fill="none" stroke="#a8262a" stroke-width="1.4"/><text x="425.4" y="456.4" font-size="8.15" text-anchor="start" fill="#9a9a9a" font-weight="normal" font-style="normal" >Refresh ORR electrolyte</text><line x1="474" y1="461.2" x2="477.98" y2="466.74" stroke="#999" stroke-width="1.5"/><polygon points="480.90,470.80 475.55,468.49 480.42,464.99" fill="#999"/><text x="670.2" y="455.9" font-size="9.3" text-anchor="end" fill="#231f20" font-weight="normal" font-style="normal" >10 mA cm<tspan font-size="6.2" dy="-3.4">−2</tspan></text><text x="670.2" y="468.6" font-size="9.4" text-anchor="end" fill="#231f20" font-weight="normal" font-style="normal" >20 Ah per cycle</text><text x="434.2" y="519.6" font-size="11.6" font-weight="bold" fill="#4f8a31">Discharge</text><text x="585.8" y="558.8" font-size="11.3" font-weight="bold" fill="#2d5b8e">Charge</text><text x="554.7" y="502.4" font-size="8.1" text-anchor="start" fill="#9a9a9a" font-weight="normal" font-style="normal" >Refresh HzOR electrolyte</text><line x1="577" y1="507.8" x2="567.97" y2="517.71" stroke="#999" stroke-width="1.5"/><polygon points="564.60,521.40 565.75,515.68 570.19,519.73" fill="#999"/><line x1="618.8" y1="507.8" x2="627.78" y2="517.36" stroke="#999" stroke-width="1.5"/><polygon points="631.20,521.00 625.59,519.41 629.96,515.30" fill="#999"/>
</svg>
</body></html>
